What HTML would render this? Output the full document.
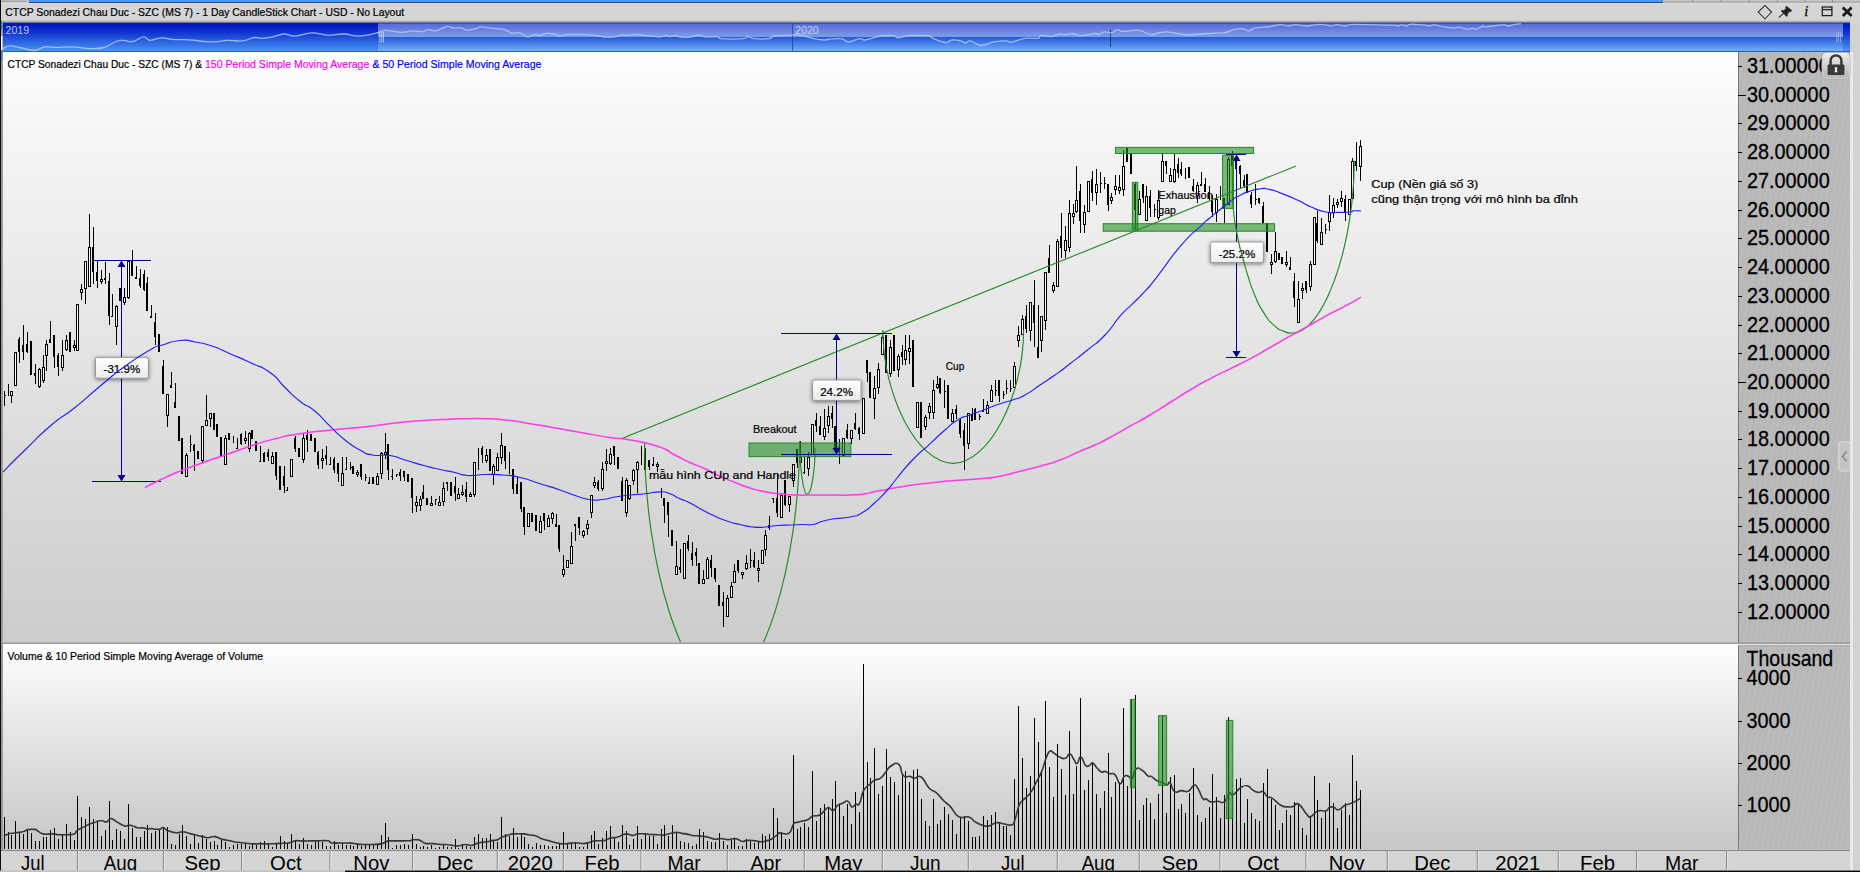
<!DOCTYPE html>
<html><head><meta charset="utf-8"><title>CTCP Sonadezi Chau Duc - SZC</title>
<style>html,body{margin:0;padding:0;background:#d6d6d6;overflow:hidden}svg{display:block}text{font-family:"Liberation Sans",sans-serif}.tk text,.tk{stroke:#000;stroke-width:0.22px}</style></head><body>
<svg width="1860" height="872" viewBox="0 0 1860 872">
<defs>
<linearGradient id="gChart" x1="0" y1="0" x2="0" y2="1"><stop offset="0" stop-color="#ffffff"/><stop offset="0.12" stop-color="#f6f6f6"/><stop offset="1" stop-color="#cccccc"/></linearGradient>
<linearGradient id="gVol" x1="0" y1="0" x2="0" y2="1"><stop offset="0" stop-color="#ffffff"/><stop offset="0.2" stop-color="#f2f2f2"/><stop offset="1" stop-color="#c6c6c6"/></linearGradient>
<linearGradient id="gNavDark" x1="0" y1="0" x2="0" y2="1"><stop offset="0" stop-color="#0012b8"/><stop offset="0.25" stop-color="#0a28cc"/><stop offset="1" stop-color="#4a96f2"/></linearGradient>
<linearGradient id="gNavSelTop" x1="0" y1="0" x2="0" y2="1"><stop offset="0" stop-color="#5866d6"/><stop offset="1" stop-color="#7c9ee8"/></linearGradient>
<linearGradient id="gNavSelBot" x1="0" y1="0" x2="0" y2="1"><stop offset="0" stop-color="#2456d8"/><stop offset="1" stop-color="#74b4fa"/></linearGradient>
<linearGradient id="gLbl" x1="0" y1="0" x2="0" y2="1"><stop offset="0" stop-color="#ffffff"/><stop offset="1" stop-color="#ececec"/></linearGradient>
<linearGradient id="gBtn" x1="0" y1="0" x2="0" y2="1"><stop offset="0" stop-color="#ececec"/><stop offset="1" stop-color="#b4b4b4"/></linearGradient>
<linearGradient id="gTitleSh" x1="0" y1="0" x2="0" y2="1"><stop offset="0" stop-color="#d6d6d6"/><stop offset="1" stop-color="#8e8e8e"/></linearGradient>
<pattern id="brush" width="11" height="40" patternUnits="userSpaceOnUse" patternTransform="rotate(12)"><rect width="11" height="40" fill="#b9b9b9"/><rect width="1" height="40" x="1" fill="#bdbdbd"/><rect width="1" height="40" x="4" fill="#b5b5b5"/><rect width="1" height="40" x="7" fill="#bcbcbc"/><rect width="1" height="40" x="9" fill="#b6b6b6"/></pattern>
<filter id="sh" x="-20%" y="-30%" width="140%" height="170%"><feGaussianBlur in="SourceAlpha" stdDeviation="1.9"/><feOffset dx="0.3" dy="0.8"/><feComponentTransfer><feFuncA type="linear" slope="0.55"/></feComponentTransfer><feMerge><feMergeNode/><feMergeNode in="SourceGraphic"/></feMerge></filter>
<clipPath id="cpChart"><rect x="3" y="52" width="1735" height="590"/></clipPath>
<clipPath id="cpAxis"><rect x="1738" y="52" width="112" height="591"/></clipPath>
<clipPath id="cpX"><rect x="0" y="850" width="1860" height="20.5"/></clipPath>
</defs>
<rect x="0" y="0" width="1860" height="872" fill="#d6d6d6"/>
<rect x="0" y="0" width="1860" height="3" fill="#c4c4c4"/>
<rect x="1" y="0" width="26" height="1.5" fill="#bcbcbc"/><rect x="1" y="1.4" width="26" height="0.7" fill="#8e8e8e"/><rect x="1" y="2.1" width="28" height="1" fill="#d2d2d2"/>
<rect x="29" y="0" width="1634" height="2.3" fill="#4a98ea"/>
<rect x="29" y="2.2" width="1634" height="0.9" fill="#18259a"/>
<rect x="1" y="3" width="1859" height="0.7" fill="#e6e6e0"/>
<rect x="1692" y="0" width="1" height="2.5" fill="#909090"/>
<rect x="1720.5" y="0" width="1" height="2.5" fill="#909090"/>
<rect x="1748.6" y="0" width="1" height="2.5" fill="#909090"/>
<rect x="1777" y="0" width="1" height="2.5" fill="#909090"/>
<rect x="1804.6" y="0" width="1" height="2.5" fill="#909090"/>
<rect x="1832" y="0" width="1" height="2.5" fill="#909090"/>
<rect x="1663" y="1.5" width="197" height="1" fill="#a0a0a0"/>
<rect x="1" y="3.6" width="1859" height="17" fill="#d5d5d5"/>
<rect x="1" y="20" width="1849" height="3" fill="url(#gTitleSh)"/>
<text class="tk" x="5.3" y="15.8" font-size="11.4" fill="#000" textLength="398.8" lengthAdjust="spacingAndGlyphs">CTCP Sonadezi Chau Duc - SZC (MS 7) - 1 Day CandleStick Chart - USD - No Layout</text>
<path d="M1764.9 5.4 L1771.6 12.1 L1764.9 18.8 L1758.2 12.1 Z" stroke="#2c2c2c" fill="none" stroke-width="1.05"/>
<g stroke="#222" fill="none" stroke-width="1.3">
<rect x="1822.3" y="7" width="9.6" height="8.6"/><line x1="1822.3" y1="9.6" x2="1831.9" y2="9.6"/>
</g>
<path d="M1842.8 7.6 L1851.6 16 M1851.6 7.6 L1842.8 16" stroke="#1a1a1a" stroke-width="2.8" fill="none"/>
<g fill="#222" stroke="#222" stroke-width="0.6"><path d="M1786.5 6.2 L1791.8 10.6 L1790.6 11.8 L1789.6 11.4 L1787.2 14.2 L1787.6 15.6 L1786.6 16.4 L1781.2 11 L1782.2 10.2 L1783.6 10.8 L1786.2 8.2 L1785.6 7.2 Z"/><path d="M1783.6 13.4 L1778.8 17.6" stroke-width="1.2" fill="none"/></g>
<text x="1804.2" y="16.2" font-size="14.5" font-style="italic" fill="#111" stroke="#111" stroke-width="0.35" style="font-family:'Liberation Serif',serif">i</text>
<rect x="0" y="0" width="1" height="872" fill="#0a0a0a"/>
<rect x="1" y="23" width="2" height="849" fill="#9a9a9a"/>
<rect x="1" y="21" width="1.3" height="8" fill="#2a86b8"/><rect x="1" y="36" width="1.3" height="14" fill="#ffffff"/><rect x="1" y="50" width="1.3" height="10" fill="#2a86b8"/>
<rect x="3" y="23" width="1847" height="28.5" fill="url(#gNavDark)"/>
<rect x="378" y="23" width="1465" height="14" fill="url(#gNavSelTop)"/>
<rect x="378" y="37" width="1465" height="14.5" fill="url(#gNavSelBot)"/>
<rect x="3" y="22.6" width="1847" height="0.9" fill="#14279a" opacity="0.8"/>
<rect x="3" y="51" width="1847" height="1" fill="#2a5cb0"/>
<rect x="792" y="23" width="1" height="28" fill="#1a2a70" opacity="0.6"/>
<rect x="1110" y="30" width="1" height="17" fill="#14205a" opacity="0.7"/>
<path d="M2.2 49.0 C3.7 48.4 5.8 46.0 9.7 45.8 C13.6 45.6 16.6 47.1 21.5 48.0 C26.4 48.9 29.7 50.7 34.4 50.5 C39.1 50.3 40.7 47.5 45.0 46.9 C49.3 46.3 50.4 47.5 56.0 47.5 C61.6 47.5 66.2 46.7 73.0 46.9 C79.8 47.1 83.8 48.5 90.0 48.6 C96.2 48.7 98.8 48.9 104.0 47.5 C109.2 46.1 112.1 42.9 116.0 41.5 C119.9 40.1 120.3 40.4 123.7 40.4 C127.1 40.4 129.0 42.2 133.0 41.5 C137.0 40.8 140.3 37.0 143.7 36.8 C147.1 36.6 146.5 40.2 150.0 40.4 C153.5 40.6 156.6 38.0 161.0 37.8 C165.4 37.6 166.4 39.0 172.0 39.4 C177.6 39.8 182.6 39.4 189.0 39.8 C195.4 40.2 198.8 41.1 204.0 41.5 C209.2 41.9 210.2 42.1 215.0 41.9 C219.8 41.7 222.4 40.6 228.0 40.4 C233.6 40.2 237.8 41.5 243.0 40.9 C248.2 40.3 250.2 38.1 254.0 37.6 C257.8 37.1 258.2 38.5 262.0 38.3 C265.8 38.1 268.6 37.7 273.0 36.8 C277.4 35.9 279.7 34.1 284.0 34.0 C288.3 33.9 289.0 36.3 294.6 36.1 C300.2 35.9 305.5 33.1 312.0 32.9 C318.5 32.7 320.6 34.9 327.0 35.1 C333.4 35.3 338.0 33.8 344.0 34.0 C350.0 34.2 351.8 36.0 357.0 36.1 C362.2 36.2 365.7 35.3 370.0 34.6 C374.3 33.9 375.2 33.4 378.5 32.5 C381.8 31.6 381.9 30.3 386.5 30.3 C391.1 30.3 396.4 32.2 401.5 32.3 C406.6 32.4 407.9 30.9 412.0 30.8 C416.1 30.7 418.8 32.0 422.0 31.8 C425.2 31.6 425.2 29.9 428.0 29.7 C430.8 29.5 432.3 31.4 436.0 30.8 C439.7 30.2 443.3 27.1 446.7 26.5 C450.1 25.9 450.0 27.7 453.0 28.0 C456.0 28.3 459.1 27.6 461.7 28.0 C464.3 28.4 463.4 29.9 466.0 30.1 C468.6 30.3 471.6 29.6 474.6 29.0 C477.6 28.4 477.6 27.1 481.0 26.9 C484.4 26.7 487.1 27.6 491.8 28.2 C496.5 28.8 500.9 28.8 504.7 29.7 C508.5 30.6 508.0 32.3 511.0 32.9 C514.0 33.5 516.5 32.1 519.8 32.9 C523.1 33.7 524.3 36.5 527.3 36.8 C530.3 37.1 532.3 34.9 534.8 34.6 C537.3 34.3 537.8 35.7 540.0 35.5 C542.2 35.3 542.8 33.8 545.6 33.5 C548.4 33.2 551.0 33.5 554.0 34.0 C557.0 34.5 558.0 36.0 560.6 36.1 C563.2 36.2 561.8 34.9 567.0 34.6 C572.2 34.3 580.9 34.4 586.5 34.6 C592.1 34.8 590.7 35.0 595.0 35.5 C599.3 36.0 603.9 36.9 608.0 37.2 C612.1 37.5 612.5 37.3 615.5 36.8 C618.5 36.3 620.9 34.8 623.0 34.6 C625.1 34.4 624.3 35.7 626.0 35.7 C627.7 35.7 629.2 34.8 631.6 34.6 C634.0 34.4 635.0 34.4 638.0 34.6 C641.0 34.8 642.4 35.3 646.7 35.7 C651.0 36.1 655.7 36.8 659.6 36.8 C663.5 36.8 663.9 35.5 666.0 35.5 C668.1 35.5 668.3 36.6 670.0 36.6 C671.7 36.6 672.4 35.6 674.6 35.7 C676.8 35.8 678.0 36.9 681.0 37.2 C684.0 37.5 686.3 37.6 689.7 37.2 C693.1 36.8 695.0 35.1 698.0 35.0 C701.0 34.9 700.8 36.4 704.7 36.8 C708.6 37.2 714.1 36.4 717.6 36.8 C721.1 37.2 716.8 38.3 722.0 38.7 C727.2 39.1 738.3 39.1 743.4 38.7 C748.5 38.3 745.6 36.6 747.7 36.6 C749.8 36.6 749.7 38.3 754.0 38.7 C758.3 39.1 765.1 39.2 769.0 38.7 C772.9 38.2 771.3 36.7 773.5 36.1 C775.7 35.5 774.9 35.9 780.0 35.7 C785.1 35.5 792.2 34.4 799.0 35.0 C805.8 35.6 808.8 37.7 814.0 38.7 C819.2 39.7 821.5 40.0 825.0 40.0 C828.5 40.0 828.2 39.1 831.6 38.9 C835.0 38.7 838.6 38.3 842.0 38.9 C845.4 39.5 845.3 41.9 848.8 41.9 C852.3 41.9 856.4 39.1 859.6 38.7 C862.8 38.3 861.6 40.4 865.0 40.0 C868.4 39.6 873.2 37.7 876.8 36.8 C880.4 35.9 879.6 35.9 883.0 35.7 C886.4 35.5 891.0 35.3 894.0 35.7 C897.0 36.1 895.0 37.8 898.0 37.8 C901.0 37.8 903.0 36.1 909.0 35.7 C915.0 35.3 923.3 35.2 928.0 35.7 C932.7 36.2 929.2 36.9 932.7 38.3 C936.2 39.7 941.7 42.3 945.6 42.6 C949.5 42.9 949.0 40.3 952.0 40.0 C955.0 39.7 957.8 40.3 960.6 40.9 C963.4 41.5 964.1 43.0 966.0 43.0 C967.9 43.0 967.0 40.4 970.0 40.9 C973.0 41.4 976.4 45.1 981.0 45.4 C985.6 45.7 988.0 43.1 993.0 42.2 C998.0 41.3 1002.2 40.9 1005.8 40.9 C1009.4 40.9 1007.2 42.7 1011.0 42.2 C1014.8 41.7 1019.6 39.1 1025.0 38.3 C1030.4 37.5 1034.8 38.9 1038.0 38.3 C1041.2 37.7 1038.4 35.8 1041.0 35.5 C1043.6 35.2 1047.3 36.9 1051.0 36.6 C1054.7 36.3 1056.6 34.4 1059.6 34.0 C1062.6 33.6 1063.4 34.7 1066.0 34.6 C1068.6 34.5 1069.5 33.3 1072.5 33.5 C1075.5 33.7 1076.3 35.7 1081.0 35.7 C1085.7 35.7 1092.6 33.7 1096.0 33.5 C1099.4 33.3 1096.3 34.9 1098.0 34.6 C1099.7 34.3 1102.1 32.1 1104.7 31.8 C1107.3 31.5 1108.4 33.3 1111.0 32.9 C1113.6 32.5 1115.4 30.0 1117.6 29.7 C1119.8 29.4 1118.6 31.3 1122.0 31.4 C1125.4 31.5 1131.0 30.4 1134.8 30.3 C1138.6 30.2 1137.8 29.9 1141.0 30.8 C1144.2 31.7 1147.5 34.2 1151.0 34.6 C1154.5 35.0 1155.3 33.5 1158.5 32.9 C1161.7 32.3 1162.7 31.6 1167.0 31.8 C1171.3 32.0 1176.1 33.4 1180.0 34.0 C1183.9 34.6 1182.2 35.0 1186.5 35.0 C1190.8 35.0 1195.1 34.4 1201.5 34.0 C1207.9 33.6 1213.8 33.2 1218.7 32.9 C1223.6 32.6 1223.0 33.1 1226.0 32.5 C1229.0 31.9 1230.6 30.5 1233.8 29.7 C1237.0 28.9 1239.0 28.4 1242.0 28.6 C1245.0 28.8 1246.2 30.9 1248.8 30.8 C1251.4 30.7 1250.8 29.1 1255.0 28.2 C1259.2 27.3 1264.8 27.2 1270.0 26.5 C1275.2 25.8 1277.5 24.8 1281.0 24.7 C1284.5 24.6 1284.5 25.8 1287.5 25.8 C1290.5 25.8 1292.1 24.7 1296.0 24.7 C1299.9 24.7 1302.1 26.1 1306.9 26.0 C1311.7 25.9 1315.1 24.3 1319.8 24.3 C1324.5 24.3 1327.1 25.7 1330.5 25.8 C1333.9 25.9 1334.0 24.7 1337.0 24.7 C1340.0 24.7 1342.2 26.1 1345.6 26.0 C1349.0 25.9 1344.1 24.4 1354.0 24.3 C1363.9 24.2 1386.4 25.1 1395.0 25.4 C1403.6 25.7 1395.7 26.1 1397.0 26.0 C1398.3 25.9 1399.5 24.9 1401.5 24.9 C1403.5 24.9 1405.3 26.1 1407.0 26.0 C1408.7 25.9 1406.8 24.5 1410.0 24.3 C1413.2 24.1 1419.1 24.6 1423.0 24.9 C1426.9 25.2 1427.3 26.0 1429.5 26.0 C1431.7 26.0 1430.8 24.7 1433.8 24.9 C1436.8 25.1 1440.3 26.3 1444.5 26.9 C1448.7 27.5 1452.2 28.0 1455.0 28.0 C1457.8 28.0 1456.1 26.9 1458.5 27.1 C1460.9 27.3 1464.2 29.0 1467.0 29.2 C1469.8 29.4 1470.8 28.2 1472.5 28.2 C1474.2 28.2 1473.6 29.6 1475.7 29.2 C1477.8 28.8 1481.1 26.5 1483.0 26.0 C1484.9 25.5 1481.1 27.1 1485.0 26.9 C1488.9 26.7 1498.0 25.1 1502.6 24.9 C1507.2 24.7 1505.4 26.1 1508.0 26.0 C1510.6 25.9 1512.9 24.7 1515.5 24.3 C1518.1 23.9 1519.9 24.0 1521.0 23.9" fill="none" stroke="#b4cdf4" stroke-width="1.3" stroke-linejoin="round" opacity="0.8"/>
<text x="5.6" y="34" font-size="10.6" fill="#b8c6ec" textLength="23.4" lengthAdjust="spacingAndGlyphs">2019</text>
<text x="795.3" y="34" font-size="10.6" fill="#c4d0f0" textLength="23.4" lengthAdjust="spacingAndGlyphs">2020</text>
<rect x="379.6" y="32" width="0.8" height="10.5" fill="#d8e0f8" opacity="0.85"/>
<rect x="381.4" y="32" width="0.8" height="10.5" fill="#d8e0f8" opacity="0.85"/>
<rect x="383.2" y="32" width="0.8" height="10.5" fill="#d8e0f8" opacity="0.85"/>
<rect x="1836.4" y="32" width="0.8" height="10.5" fill="#aab8ea" opacity="0.85"/>
<rect x="1838.2" y="32" width="0.8" height="10.5" fill="#aab8ea" opacity="0.85"/>
<rect x="1840" y="32" width="0.8" height="10.5" fill="#aab8ea" opacity="0.85"/>
<rect x="1850" y="23" width="10" height="849" fill="#d2d2d2"/>
<rect x="1850" y="52" width="3" height="820" fill="#e9e9e9"/>
<rect x="3" y="52" width="1735" height="591" fill="url(#gChart)"/>
<rect x="3" y="643.7" width="1735" height="206" fill="url(#gVol)"/>
<rect x="1738" y="52" width="112" height="591" fill="url(#brush)"/>
<rect x="1738" y="643.7" width="112" height="1.8" fill="#e6e6e6"/>
<rect x="1738" y="645.4" width="112" height="204.4" fill="url(#brush)"/>
<rect x="1738" y="52" width="1" height="591" fill="#787878"/>
<rect x="1738" y="645.4" width="1" height="204.4" fill="#787878"/>
<rect x="3" y="642.7" width="1847" height="1" fill="#808080"/>
<rect x="1738" y="645.4" width="112" height="0.7" fill="#9a9a9a"/>
<g clip-path="url(#cpAxis)" font-size="21.6" fill="#000" stroke="#000" stroke-width="0.3">
<rect x="1738" y="66" width="4" height="1" fill="#000" stroke="none" shape-rendering="crispEdges"/>
<text x="1746.9" y="73.2" textLength="82.8" lengthAdjust="spacingAndGlyphs">31.00000</text>
<rect x="1738" y="95" width="8" height="1" fill="#000" stroke="none" shape-rendering="crispEdges"/>
<text x="1746.9" y="102.2" textLength="82.8" lengthAdjust="spacingAndGlyphs">30.00000</text>
<rect x="1738" y="123" width="4" height="1" fill="#000" stroke="none" shape-rendering="crispEdges"/>
<text x="1746.9" y="130.2" textLength="82.8" lengthAdjust="spacingAndGlyphs">29.00000</text>
<rect x="1738" y="152" width="4" height="1" fill="#000" stroke="none" shape-rendering="crispEdges"/>
<text x="1746.9" y="159.2" textLength="82.8" lengthAdjust="spacingAndGlyphs">28.00000</text>
<rect x="1738" y="181" width="4" height="1" fill="#000" stroke="none" shape-rendering="crispEdges"/>
<text x="1746.9" y="188.2" textLength="82.8" lengthAdjust="spacingAndGlyphs">27.00000</text>
<rect x="1738" y="210" width="4" height="1" fill="#000" stroke="none" shape-rendering="crispEdges"/>
<text x="1746.9" y="217.2" textLength="82.8" lengthAdjust="spacingAndGlyphs">26.00000</text>
<rect x="1738" y="238" width="4" height="1" fill="#000" stroke="none" shape-rendering="crispEdges"/>
<text x="1746.9" y="245.2" textLength="82.8" lengthAdjust="spacingAndGlyphs">25.00000</text>
<rect x="1738" y="267" width="4" height="1" fill="#000" stroke="none" shape-rendering="crispEdges"/>
<text x="1746.9" y="274.2" textLength="82.8" lengthAdjust="spacingAndGlyphs">24.00000</text>
<rect x="1738" y="296" width="4" height="1" fill="#000" stroke="none" shape-rendering="crispEdges"/>
<text x="1746.9" y="303.2" textLength="82.8" lengthAdjust="spacingAndGlyphs">23.00000</text>
<rect x="1738" y="325" width="4" height="1" fill="#000" stroke="none" shape-rendering="crispEdges"/>
<text x="1746.9" y="332.2" textLength="82.8" lengthAdjust="spacingAndGlyphs">22.00000</text>
<rect x="1738" y="353" width="4" height="1" fill="#000" stroke="none" shape-rendering="crispEdges"/>
<text x="1746.9" y="360.2" textLength="82.8" lengthAdjust="spacingAndGlyphs">21.00000</text>
<rect x="1738" y="382" width="8" height="1" fill="#000" stroke="none" shape-rendering="crispEdges"/>
<text x="1746.9" y="389.2" textLength="82.8" lengthAdjust="spacingAndGlyphs">20.00000</text>
<rect x="1738" y="411" width="4" height="1" fill="#000" stroke="none" shape-rendering="crispEdges"/>
<text x="1746.9" y="418.2" textLength="82.8" lengthAdjust="spacingAndGlyphs">19.00000</text>
<rect x="1738" y="439" width="4" height="1" fill="#000" stroke="none" shape-rendering="crispEdges"/>
<text x="1746.9" y="446.2" textLength="82.8" lengthAdjust="spacingAndGlyphs">18.00000</text>
<rect x="1738" y="468" width="4" height="1" fill="#000" stroke="none" shape-rendering="crispEdges"/>
<text x="1746.9" y="475.2" textLength="82.8" lengthAdjust="spacingAndGlyphs">17.00000</text>
<rect x="1738" y="497" width="4" height="1" fill="#000" stroke="none" shape-rendering="crispEdges"/>
<text x="1746.9" y="504.2" textLength="82.8" lengthAdjust="spacingAndGlyphs">16.00000</text>
<rect x="1738" y="526" width="4" height="1" fill="#000" stroke="none" shape-rendering="crispEdges"/>
<text x="1746.9" y="533.2" textLength="82.8" lengthAdjust="spacingAndGlyphs">15.00000</text>
<rect x="1738" y="554" width="4" height="1" fill="#000" stroke="none" shape-rendering="crispEdges"/>
<text x="1746.9" y="561.2" textLength="82.8" lengthAdjust="spacingAndGlyphs">14.00000</text>
<rect x="1738" y="583" width="4" height="1" fill="#000" stroke="none" shape-rendering="crispEdges"/>
<text x="1746.9" y="590.2" textLength="82.8" lengthAdjust="spacingAndGlyphs">13.00000</text>
<rect x="1738" y="612" width="4" height="1" fill="#000" stroke="none" shape-rendering="crispEdges"/>
<text x="1746.9" y="619.2" textLength="82.8" lengthAdjust="spacingAndGlyphs">12.00000</text>
</g>
<g><rect x="1822.5" y="52.8" width="27" height="25.6" rx="3.5" fill="url(#gBtn)" stroke="#f2f2f2" stroke-width="1"/>
<rect x="1822" y="52.3" width="28" height="26.6" rx="4" fill="none" stroke="#9a9a9a" stroke-width="0.7"/>
<path d="M1830.6 65 v-4.2 a5.4 5.4 0 0 1 10.8 0 v4.2" fill="none" stroke="#3a3a3a" stroke-width="2.5"/>
<rect x="1827.6" y="64.6" width="16.8" height="10.4" rx="1.2" fill="#3a3a3a"/>
<path d="M1836 67 a1.3 1.3 0 0 1 .9 2.3 l.6 2.9 h-3 l.6 -2.9 a1.3 1.3 0 0 1 .9 -2.3z" fill="#e8e8e8"/></g>
<rect x="1838.8" y="442" width="11.4" height="29" rx="2" fill="#c4c4c4" stroke="#dedede" stroke-width="1"/>
<path d="M1846.6 451.6 L1842.4 456.4 L1846.6 461.2" fill="none" stroke="#8a8a8a" stroke-width="1.6"/>
<g font-size="21.6" fill="#000" stroke="#000" stroke-width="0.3">
<text x="1746.6" y="665.8" textLength="86.6" lengthAdjust="spacingAndGlyphs">Thousand</text>
<rect x="1738" y="678" width="4" height="1" fill="#000" stroke="none" shape-rendering="crispEdges"/>
<text x="1746.6" y="685.2" textLength="44" lengthAdjust="spacingAndGlyphs">4000</text>
<rect x="1738" y="721" width="4" height="1" fill="#000" stroke="none" shape-rendering="crispEdges"/>
<text x="1746.6" y="728.2" textLength="44" lengthAdjust="spacingAndGlyphs">3000</text>
<rect x="1738" y="763" width="4" height="1" fill="#000" stroke="none" shape-rendering="crispEdges"/>
<text x="1746.6" y="770.2" textLength="44" lengthAdjust="spacingAndGlyphs">2000</text>
<rect x="1738" y="805" width="4" height="1" fill="#000" stroke="none" shape-rendering="crispEdges"/>
<text x="1746.6" y="812.2" textLength="44" lengthAdjust="spacingAndGlyphs">1000</text>
</g>
<rect x="1" y="850" width="1849" height="1" fill="#858585" shape-rendering="crispEdges"/>
<rect x="1" y="851" width="1849" height="19.6" fill="#d4d4d4"/>
<rect x="0" y="870.4" width="1860" height="1.6" fill="#c2c2c2"/>
<rect x="345" y="870.6" width="1515" height="1.4" fill="#0a0a0a"/>
<g clip-path="url(#cpX)" font-size="20.3" fill="#000" text-anchor="middle">
<rect x="76.9" y="850.6" width="1" height="20" fill="#7c7c7c"/><rect x="77.9" y="850.6" width="1" height="20" fill="#e6e6e6"/>
<rect x="162.9" y="850.6" width="1" height="20" fill="#7c7c7c"/><rect x="163.9" y="850.6" width="1" height="20" fill="#e6e6e6"/>
<rect x="241.2" y="850.6" width="1" height="20" fill="#7c7c7c"/><rect x="242.2" y="850.6" width="1" height="20" fill="#e6e6e6"/>
<rect x="329.5" y="850.6" width="1" height="20" fill="#7c7c7c"/><rect x="330.5" y="850.6" width="1" height="20" fill="#e6e6e6"/>
<rect x="412.2" y="850.6" width="1" height="20" fill="#7c7c7c"/><rect x="413.2" y="850.6" width="1" height="20" fill="#e6e6e6"/>
<rect x="496.8" y="850.6" width="1" height="20" fill="#7c7c7c"/><rect x="497.8" y="850.6" width="1" height="20" fill="#e6e6e6"/>
<rect x="562.8" y="850.6" width="1" height="20" fill="#7c7c7c"/><rect x="563.8" y="850.6" width="1" height="20" fill="#e6e6e6"/>
<rect x="640.5" y="850.6" width="1" height="20" fill="#7c7c7c"/><rect x="641.5" y="850.6" width="1" height="20" fill="#e6e6e6"/>
<rect x="726.8" y="850.6" width="1" height="20" fill="#7c7c7c"/><rect x="727.8" y="850.6" width="1" height="20" fill="#e6e6e6"/>
<rect x="803.8" y="850.6" width="1" height="20" fill="#7c7c7c"/><rect x="804.8" y="850.6" width="1" height="20" fill="#e6e6e6"/>
<rect x="881.8" y="850.6" width="1" height="20" fill="#7c7c7c"/><rect x="882.8" y="850.6" width="1" height="20" fill="#e6e6e6"/>
<rect x="967.8" y="850.6" width="1" height="20" fill="#7c7c7c"/><rect x="968.8" y="850.6" width="1" height="20" fill="#e6e6e6"/>
<rect x="1056.8" y="850.6" width="1" height="20" fill="#7c7c7c"/><rect x="1057.8" y="850.6" width="1" height="20" fill="#e6e6e6"/>
<rect x="1138.8" y="850.6" width="1" height="20" fill="#7c7c7c"/><rect x="1139.8" y="850.6" width="1" height="20" fill="#e6e6e6"/>
<rect x="1219.5" y="850.6" width="1" height="20" fill="#7c7c7c"/><rect x="1220.5" y="850.6" width="1" height="20" fill="#e6e6e6"/>
<rect x="1305.5" y="850.6" width="1" height="20" fill="#7c7c7c"/><rect x="1306.5" y="850.6" width="1" height="20" fill="#e6e6e6"/>
<rect x="1386.8" y="850.6" width="1" height="20" fill="#7c7c7c"/><rect x="1387.8" y="850.6" width="1" height="20" fill="#e6e6e6"/>
<rect x="1476.8" y="850.6" width="1" height="20" fill="#7c7c7c"/><rect x="1477.8" y="850.6" width="1" height="20" fill="#e6e6e6"/>
<rect x="1557.8" y="850.6" width="1" height="20" fill="#7c7c7c"/><rect x="1558.8" y="850.6" width="1" height="20" fill="#e6e6e6"/>
<rect x="1636.2" y="850.6" width="1" height="20" fill="#7c7c7c"/><rect x="1637.2" y="850.6" width="1" height="20" fill="#e6e6e6"/>
<rect x="1726.2" y="850.6" width="1" height="20" fill="#7c7c7c"/><rect x="1727.2" y="850.6" width="1" height="20" fill="#e6e6e6"/>
<text x="32.8" y="870.4" textLength="23.5" lengthAdjust="spacingAndGlyphs">Jul</text>
<text x="120.4" y="870.4" textLength="33.3" lengthAdjust="spacingAndGlyphs">Aug</text>
<text x="202.6" y="870.4">Sep</text>
<text x="285.9" y="870.4">Oct</text>
<text x="371.4" y="870.4">Nov</text>
<text x="455.0" y="870.4">Dec</text>
<text x="530.3" y="870.4">2020</text>
<text x="602.1" y="870.4">Feb</text>
<text x="684.1" y="870.4" textLength="33.4" lengthAdjust="spacingAndGlyphs">Mar</text>
<text x="765.8" y="870.4" textLength="30.6" lengthAdjust="spacingAndGlyphs">Apr</text>
<text x="843.3" y="870.4">May</text>
<text x="925.3" y="870.4" textLength="30.7" lengthAdjust="spacingAndGlyphs">Jun</text>
<text x="1012.8" y="870.4" textLength="23.5" lengthAdjust="spacingAndGlyphs">Jul</text>
<text x="1098.3" y="870.4" textLength="33.3" lengthAdjust="spacingAndGlyphs">Aug</text>
<text x="1179.7" y="870.4">Sep</text>
<text x="1263.0" y="870.4">Oct</text>
<text x="1346.7" y="870.4">Nov</text>
<text x="1432.3" y="870.4">Dec</text>
<text x="1517.8" y="870.4">2021</text>
<text x="1597.5" y="870.4">Feb</text>
<text x="1681.7" y="870.4" textLength="33.4" lengthAdjust="spacingAndGlyphs">Mar</text>
</g>
<g clip-path="url(#cpChart)">
<g shape-rendering="crispEdges">
<rect x="4" y="391" width="1" height="15" fill="#000"/>
<rect x="4" y="395" width="2" height="1" fill="#000"/>
<rect x="8" y="384" width="1" height="12" fill="#000"/>
<rect x="11" y="391" width="1" height="12" fill="#000"/>
<rect x="10" y="391" width="3" height="5" fill="#000"/><rect x="11" y="392" width="1" height="3" fill="#fff"/>
<rect x="15" y="352" width="1" height="34" fill="#000"/>
<rect x="14" y="352" width="3" height="34" fill="#000"/><rect x="15" y="353" width="1" height="32" fill="#fff"/>
<rect x="19" y="337" width="1" height="26" fill="#000"/>
<rect x="18" y="339" width="2" height="13" fill="#000"/>
<rect x="23" y="325" width="1" height="35" fill="#000"/>
<rect x="22" y="345" width="2" height="7" fill="#000"/>
<rect x="27" y="332" width="1" height="21" fill="#000"/>
<rect x="26" y="344" width="2" height="8" fill="#000"/>
<rect x="31" y="341" width="1" height="34" fill="#000"/>
<rect x="30" y="341" width="2" height="34" fill="#000"/>
<rect x="35" y="364" width="1" height="20" fill="#000"/>
<rect x="34" y="373" width="2" height="3" fill="#000"/>
<rect x="39" y="368" width="1" height="20" fill="#000"/>
<rect x="38" y="369" width="3" height="18" fill="#000"/><rect x="39" y="370" width="1" height="16" fill="#fff"/>
<rect x="43" y="355" width="1" height="28" fill="#000"/>
<rect x="42" y="367" width="3" height="14" fill="#000"/><rect x="43" y="368" width="1" height="12" fill="#fff"/>
<rect x="46" y="340" width="1" height="31" fill="#000"/>
<rect x="45" y="344" width="3" height="12" fill="#000"/><rect x="46" y="345" width="1" height="10" fill="#fff"/>
<rect x="50" y="321" width="1" height="22" fill="#000"/>
<rect x="49" y="339" width="2" height="4" fill="#000"/>
<rect x="54" y="335" width="1" height="33" fill="#000"/>
<rect x="53" y="335" width="2" height="22" fill="#000"/>
<rect x="58" y="353" width="1" height="23" fill="#000"/>
<rect x="57" y="355" width="2" height="12" fill="#000"/>
<rect x="62" y="340" width="1" height="31" fill="#000"/>
<rect x="61" y="355" width="3" height="13" fill="#000"/><rect x="62" y="356" width="1" height="11" fill="#fff"/>
<rect x="66" y="335" width="1" height="16" fill="#000"/>
<rect x="65" y="340" width="3" height="10" fill="#000"/><rect x="66" y="341" width="1" height="8" fill="#fff"/>
<rect x="70" y="332" width="1" height="20" fill="#000"/>
<rect x="69" y="332" width="2" height="20" fill="#000"/>
<rect x="74" y="340" width="1" height="11" fill="#000"/>
<rect x="73" y="345" width="3" height="3" fill="#000"/><rect x="74" y="346" width="1" height="1" fill="#fff"/>
<rect x="77" y="304" width="1" height="47" fill="#000"/>
<rect x="76" y="304" width="3" height="47" fill="#000"/><rect x="77" y="305" width="1" height="45" fill="#fff"/>
<rect x="81" y="284" width="1" height="16" fill="#000"/>
<rect x="80" y="289" width="3" height="4" fill="#000"/><rect x="81" y="290" width="1" height="2" fill="#fff"/>
<rect x="85" y="261" width="1" height="43" fill="#000"/>
<rect x="84" y="261" width="3" height="28" fill="#000"/><rect x="85" y="262" width="1" height="26" fill="#fff"/>
<rect x="89" y="214" width="1" height="73" fill="#000"/>
<rect x="88" y="247" width="3" height="40" fill="#000"/><rect x="89" y="248" width="1" height="38" fill="#fff"/>
<rect x="93" y="227" width="1" height="57" fill="#000"/>
<rect x="92" y="247" width="2" height="25" fill="#000"/>
<rect x="97" y="260" width="1" height="28" fill="#000"/>
<rect x="96" y="272" width="2" height="9" fill="#000"/>
<rect x="101" y="270" width="1" height="14" fill="#000"/>
<rect x="100" y="279" width="3" height="3" fill="#000"/><rect x="101" y="280" width="1" height="1" fill="#fff"/>
<rect x="105" y="262" width="1" height="22" fill="#000"/>
<rect x="104" y="278" width="2" height="2" fill="#000"/>
<rect x="109" y="273" width="1" height="52" fill="#000"/>
<rect x="108" y="281" width="2" height="35" fill="#000"/>
<rect x="112" y="294" width="1" height="23" fill="#000"/>
<rect x="111" y="316" width="2" height="1" fill="#000"/>
<rect x="116" y="305" width="1" height="40" fill="#000"/>
<rect x="115" y="306" width="3" height="21" fill="#000"/><rect x="116" y="307" width="1" height="19" fill="#fff"/>
<rect x="120" y="288" width="1" height="13" fill="#000"/>
<rect x="119" y="288" width="2" height="13" fill="#000"/>
<rect x="124" y="288" width="1" height="17" fill="#000"/>
<rect x="123" y="297" width="3" height="6" fill="#000"/><rect x="124" y="298" width="1" height="4" fill="#fff"/>
<rect x="128" y="260" width="1" height="39" fill="#000"/>
<rect x="127" y="261" width="3" height="37" fill="#000"/><rect x="128" y="262" width="1" height="35" fill="#fff"/>
<rect x="132" y="250" width="1" height="26" fill="#000"/>
<rect x="131" y="260" width="2" height="16" fill="#000"/>
<rect x="136" y="266" width="1" height="13" fill="#000"/>
<rect x="135" y="277" width="2" height="2" fill="#000"/>
<rect x="140" y="269" width="1" height="19" fill="#000"/>
<rect x="139" y="278" width="2" height="8" fill="#000"/>
<rect x="144" y="270" width="1" height="21" fill="#000"/>
<rect x="143" y="274" width="2" height="16" fill="#000"/>
<rect x="147" y="277" width="1" height="34" fill="#000"/>
<rect x="146" y="283" width="2" height="28" fill="#000"/>
<rect x="151" y="305" width="1" height="13" fill="#000"/>
<rect x="150" y="316" width="2" height="2" fill="#000"/>
<rect x="155" y="313" width="1" height="32" fill="#000"/>
<rect x="154" y="322" width="2" height="15" fill="#000"/>
<rect x="159" y="334" width="1" height="18" fill="#000"/>
<rect x="158" y="334" width="2" height="18" fill="#000"/>
<rect x="163" y="360" width="1" height="34" fill="#000"/>
<rect x="162" y="366" width="2" height="28" fill="#000"/>
<rect x="167" y="394" width="1" height="33" fill="#000"/>
<rect x="166" y="394" width="3" height="22" fill="#000"/><rect x="167" y="395" width="1" height="20" fill="#fff"/>
<rect x="171" y="372" width="1" height="16" fill="#000"/>
<rect x="170" y="385" width="2" height="3" fill="#000"/>
<rect x="175" y="383" width="1" height="25" fill="#000"/>
<rect x="174" y="402" width="2" height="6" fill="#000"/>
<rect x="179" y="416" width="1" height="25" fill="#000"/>
<rect x="178" y="416" width="2" height="25" fill="#000"/>
<rect x="182" y="438" width="1" height="36" fill="#000"/>
<rect x="181" y="438" width="2" height="36" fill="#000"/>
<rect x="186" y="453" width="1" height="24" fill="#000"/>
<rect x="185" y="455" width="3" height="22" fill="#000"/><rect x="186" y="456" width="1" height="20" fill="#fff"/>
<rect x="190" y="435" width="1" height="17" fill="#000"/>
<rect x="190" y="444" width="2" height="1" fill="#000"/>
<rect x="194" y="444" width="1" height="27" fill="#000"/>
<rect x="193" y="445" width="2" height="6" fill="#000"/>
<rect x="198" y="451" width="1" height="8" fill="#000"/>
<rect x="197" y="451" width="2" height="8" fill="#000"/>
<rect x="202" y="426" width="1" height="37" fill="#000"/>
<rect x="201" y="426" width="3" height="35" fill="#000"/><rect x="202" y="427" width="1" height="33" fill="#fff"/>
<rect x="206" y="395" width="1" height="31" fill="#000"/>
<rect x="205" y="420" width="3" height="6" fill="#000"/><rect x="206" y="421" width="1" height="4" fill="#fff"/>
<rect x="210" y="413" width="1" height="14" fill="#000"/>
<rect x="209" y="413" width="3" height="6" fill="#000"/><rect x="210" y="414" width="1" height="4" fill="#fff"/>
<rect x="214" y="413" width="1" height="17" fill="#000"/>
<rect x="213" y="413" width="2" height="17" fill="#000"/>
<rect x="217" y="424" width="1" height="13" fill="#000"/>
<rect x="216" y="424" width="2" height="13" fill="#000"/>
<rect x="221" y="437" width="1" height="19" fill="#000"/>
<rect x="220" y="437" width="2" height="19" fill="#000"/>
<rect x="225" y="435" width="1" height="30" fill="#000"/>
<rect x="224" y="438" width="3" height="27" fill="#000"/><rect x="225" y="439" width="1" height="25" fill="#fff"/>
<rect x="229" y="433" width="1" height="7" fill="#000"/>
<rect x="228" y="433" width="2" height="7" fill="#000"/>
<rect x="233" y="436" width="1" height="7" fill="#000"/>
<rect x="237" y="438" width="1" height="11" fill="#000"/>
<rect x="236" y="448" width="2" height="1" fill="#000"/>
<rect x="241" y="433" width="1" height="12" fill="#000"/>
<rect x="240" y="434" width="2" height="10" fill="#000"/>
<rect x="245" y="431" width="1" height="13" fill="#000"/>
<rect x="244" y="438" width="3" height="3" fill="#000"/><rect x="245" y="439" width="1" height="1" fill="#fff"/>
<rect x="249" y="432" width="1" height="20" fill="#000"/>
<rect x="248" y="433" width="3" height="16" fill="#000"/><rect x="249" y="434" width="1" height="14" fill="#fff"/>
<rect x="252" y="430" width="1" height="9" fill="#000"/>
<rect x="251" y="430" width="2" height="9" fill="#000"/>
<rect x="256" y="441" width="1" height="10" fill="#000"/>
<rect x="255" y="441" width="2" height="10" fill="#000"/>
<rect x="260" y="446" width="1" height="16" fill="#000"/>
<rect x="259" y="461" width="2" height="1" fill="#000"/>
<rect x="264" y="452" width="1" height="10" fill="#000"/>
<rect x="263" y="453" width="2" height="9" fill="#000"/>
<rect x="268" y="449" width="1" height="12" fill="#000"/>
<rect x="267" y="452" width="2" height="5" fill="#000"/>
<rect x="272" y="452" width="1" height="12" fill="#000"/>
<rect x="271" y="456" width="3" height="8" fill="#000"/><rect x="272" y="457" width="1" height="6" fill="#fff"/>
<rect x="276" y="452" width="1" height="28" fill="#000"/>
<rect x="275" y="452" width="2" height="24" fill="#000"/>
<rect x="280" y="466" width="1" height="24" fill="#000"/>
<rect x="279" y="466" width="2" height="24" fill="#000"/>
<rect x="284" y="466" width="1" height="27" fill="#000"/>
<rect x="283" y="476" width="2" height="10" fill="#000"/>
<rect x="287" y="487" width="1" height="4" fill="#000"/>
<rect x="286" y="490" width="2" height="1" fill="#000"/>
<rect x="291" y="459" width="1" height="18" fill="#000"/>
<rect x="290" y="459" width="3" height="18" fill="#000"/><rect x="291" y="460" width="1" height="16" fill="#fff"/>
<rect x="295" y="436" width="1" height="16" fill="#000"/>
<rect x="294" y="438" width="2" height="11" fill="#000"/>
<rect x="299" y="448" width="1" height="9" fill="#000"/>
<rect x="298" y="448" width="2" height="9" fill="#000"/>
<rect x="303" y="433" width="1" height="30" fill="#000"/>
<rect x="302" y="438" width="3" height="22" fill="#000"/><rect x="303" y="439" width="1" height="20" fill="#fff"/>
<rect x="307" y="430" width="1" height="22" fill="#000"/>
<rect x="306" y="435" width="2" height="5" fill="#000"/>
<rect x="311" y="434" width="1" height="7" fill="#000"/>
<rect x="310" y="434" width="2" height="7" fill="#000"/>
<rect x="315" y="438" width="1" height="14" fill="#000"/>
<rect x="314" y="438" width="2" height="14" fill="#000"/>
<rect x="318" y="451" width="1" height="18" fill="#000"/>
<rect x="317" y="452" width="2" height="13" fill="#000"/>
<rect x="322" y="449" width="1" height="20" fill="#000"/>
<rect x="321" y="458" width="3" height="3" fill="#000"/><rect x="322" y="459" width="1" height="1" fill="#fff"/>
<rect x="326" y="446" width="1" height="19" fill="#000"/>
<rect x="325" y="455" width="2" height="4" fill="#000"/>
<rect x="330" y="457" width="1" height="8" fill="#000"/>
<rect x="329" y="464" width="2" height="1" fill="#000"/>
<rect x="334" y="457" width="1" height="16" fill="#000"/>
<rect x="333" y="459" width="2" height="11" fill="#000"/>
<rect x="338" y="463" width="1" height="19" fill="#000"/>
<rect x="337" y="463" width="2" height="11" fill="#000"/>
<rect x="342" y="457" width="1" height="29" fill="#000"/>
<rect x="341" y="473" width="3" height="13" fill="#000"/><rect x="342" y="474" width="1" height="11" fill="#fff"/>
<rect x="346" y="457" width="1" height="13" fill="#000"/>
<rect x="345" y="469" width="2" height="1" fill="#000"/>
<rect x="350" y="462" width="1" height="8" fill="#000"/>
<rect x="350" y="467" width="2" height="1" fill="#000"/>
<rect x="353" y="466" width="1" height="8" fill="#000"/>
<rect x="352" y="466" width="2" height="8" fill="#000"/>
<rect x="357" y="470" width="1" height="7" fill="#000"/>
<rect x="356" y="472" width="3" height="3" fill="#000"/><rect x="357" y="473" width="1" height="1" fill="#fff"/>
<rect x="361" y="464" width="1" height="16" fill="#000"/>
<rect x="360" y="464" width="2" height="13" fill="#000"/>
<rect x="365" y="474" width="1" height="7" fill="#000"/>
<rect x="365" y="477" width="2" height="1" fill="#000"/>
<rect x="369" y="477" width="1" height="7" fill="#000"/>
<rect x="368" y="482" width="2" height="2" fill="#000"/>
<rect x="373" y="477" width="1" height="7" fill="#000"/>
<rect x="372" y="477" width="2" height="7" fill="#000"/>
<rect x="377" y="473" width="1" height="12" fill="#000"/>
<rect x="376" y="476" width="3" height="9" fill="#000"/><rect x="377" y="477" width="1" height="7" fill="#fff"/>
<rect x="381" y="452" width="1" height="27" fill="#000"/>
<rect x="380" y="453" width="3" height="21" fill="#000"/><rect x="381" y="454" width="1" height="19" fill="#fff"/>
<rect x="385" y="433" width="1" height="26" fill="#000"/>
<rect x="384" y="452" width="3" height="3" fill="#000"/><rect x="385" y="453" width="1" height="1" fill="#fff"/>
<rect x="388" y="444" width="1" height="36" fill="#000"/>
<rect x="387" y="444" width="2" height="26" fill="#000"/>
<rect x="392" y="469" width="1" height="11" fill="#000"/>
<rect x="391" y="476" width="2" height="1" fill="#000"/>
<rect x="396" y="474" width="1" height="3" fill="#000"/>
<rect x="396" y="474" width="2" height="1" fill="#000"/>
<rect x="400" y="469" width="1" height="12" fill="#000"/>
<rect x="399" y="472" width="2" height="4" fill="#000"/>
<rect x="404" y="471" width="1" height="10" fill="#000"/>
<rect x="403" y="471" width="2" height="6" fill="#000"/>
<rect x="408" y="474" width="1" height="8" fill="#000"/>
<rect x="407" y="474" width="2" height="8" fill="#000"/>
<rect x="412" y="478" width="1" height="35" fill="#000"/>
<rect x="411" y="478" width="2" height="20" fill="#000"/>
<rect x="416" y="496" width="1" height="16" fill="#000"/>
<rect x="415" y="502" width="3" height="4" fill="#000"/><rect x="416" y="503" width="1" height="2" fill="#fff"/>
<rect x="420" y="496" width="1" height="15" fill="#000"/>
<rect x="419" y="499" width="3" height="7" fill="#000"/><rect x="420" y="500" width="1" height="5" fill="#fff"/>
<rect x="423" y="485" width="1" height="14" fill="#000"/>
<rect x="422" y="492" width="2" height="7" fill="#000"/>
<rect x="427" y="498" width="1" height="7" fill="#000"/>
<rect x="426" y="498" width="2" height="7" fill="#000"/>
<rect x="431" y="496" width="1" height="10" fill="#000"/>
<rect x="430" y="503" width="3" height="3" fill="#000"/><rect x="431" y="504" width="1" height="1" fill="#fff"/>
<rect x="435" y="499" width="1" height="6" fill="#000"/>
<rect x="435" y="499" width="2" height="1" fill="#000"/>
<rect x="439" y="496" width="1" height="10" fill="#000"/>
<rect x="438" y="502" width="3" height="4" fill="#000"/><rect x="439" y="503" width="1" height="2" fill="#fff"/>
<rect x="443" y="482" width="1" height="24" fill="#000"/>
<rect x="442" y="488" width="3" height="14" fill="#000"/><rect x="443" y="489" width="1" height="12" fill="#fff"/>
<rect x="447" y="482" width="1" height="9" fill="#000"/>
<rect x="446" y="482" width="2" height="2" fill="#000"/>
<rect x="451" y="482" width="1" height="14" fill="#000"/>
<rect x="450" y="482" width="2" height="14" fill="#000"/>
<rect x="455" y="477" width="1" height="24" fill="#000"/>
<rect x="454" y="486" width="2" height="7" fill="#000"/>
<rect x="458" y="488" width="1" height="11" fill="#000"/>
<rect x="457" y="494" width="3" height="5" fill="#000"/><rect x="458" y="495" width="1" height="3" fill="#fff"/>
<rect x="462" y="485" width="1" height="11" fill="#000"/>
<rect x="461" y="492" width="3" height="3" fill="#000"/><rect x="462" y="493" width="1" height="1" fill="#fff"/>
<rect x="466" y="482" width="1" height="20" fill="#000"/>
<rect x="465" y="489" width="2" height="8" fill="#000"/>
<rect x="470" y="492" width="1" height="5" fill="#000"/>
<rect x="469" y="494" width="3" height="3" fill="#000"/><rect x="470" y="495" width="1" height="1" fill="#fff"/>
<rect x="474" y="462" width="1" height="35" fill="#000"/>
<rect x="473" y="462" width="3" height="33" fill="#000"/><rect x="474" y="463" width="1" height="31" fill="#fff"/>
<rect x="478" y="448" width="1" height="22" fill="#000"/>
<rect x="482" y="446" width="1" height="17" fill="#000"/>
<rect x="481" y="448" width="2" height="7" fill="#000"/>
<rect x="486" y="449" width="1" height="14" fill="#000"/>
<rect x="485" y="455" width="3" height="6" fill="#000"/><rect x="486" y="456" width="1" height="4" fill="#fff"/>
<rect x="490" y="449" width="1" height="22" fill="#000"/>
<rect x="489" y="449" width="2" height="22" fill="#000"/>
<rect x="493" y="464" width="1" height="21" fill="#000"/>
<rect x="492" y="466" width="3" height="9" fill="#000"/><rect x="493" y="467" width="1" height="7" fill="#fff"/>
<rect x="497" y="453" width="1" height="18" fill="#000"/>
<rect x="496" y="457" width="3" height="14" fill="#000"/><rect x="497" y="458" width="1" height="12" fill="#fff"/>
<rect x="501" y="433" width="1" height="31" fill="#000"/>
<rect x="500" y="445" width="3" height="13" fill="#000"/><rect x="501" y="446" width="1" height="11" fill="#fff"/>
<rect x="505" y="446" width="1" height="23" fill="#000"/>
<rect x="504" y="446" width="2" height="15" fill="#000"/>
<rect x="509" y="452" width="1" height="22" fill="#000"/>
<rect x="513" y="469" width="1" height="25" fill="#000"/>
<rect x="512" y="469" width="2" height="20" fill="#000"/>
<rect x="517" y="477" width="1" height="17" fill="#000"/>
<rect x="516" y="484" width="2" height="10" fill="#000"/>
<rect x="521" y="482" width="1" height="30" fill="#000"/>
<rect x="520" y="482" width="2" height="27" fill="#000"/>
<rect x="524" y="507" width="1" height="28" fill="#000"/>
<rect x="523" y="507" width="2" height="20" fill="#000"/>
<rect x="528" y="513" width="1" height="14" fill="#000"/>
<rect x="527" y="513" width="3" height="14" fill="#000"/><rect x="528" y="514" width="1" height="12" fill="#fff"/>
<rect x="532" y="513" width="1" height="9" fill="#000"/>
<rect x="531" y="513" width="2" height="9" fill="#000"/>
<rect x="536" y="515" width="1" height="16" fill="#000"/>
<rect x="535" y="515" width="2" height="16" fill="#000"/>
<rect x="540" y="516" width="1" height="17" fill="#000"/>
<rect x="539" y="521" width="3" height="12" fill="#000"/><rect x="540" y="522" width="1" height="10" fill="#fff"/>
<rect x="544" y="513" width="1" height="17" fill="#000"/>
<rect x="543" y="513" width="2" height="8" fill="#000"/>
<rect x="548" y="515" width="1" height="12" fill="#000"/>
<rect x="547" y="518" width="3" height="9" fill="#000"/><rect x="548" y="519" width="1" height="7" fill="#fff"/>
<rect x="552" y="512" width="1" height="12" fill="#000"/>
<rect x="551" y="513" width="3" height="6" fill="#000"/><rect x="552" y="514" width="1" height="4" fill="#fff"/>
<rect x="556" y="514" width="1" height="13" fill="#000"/>
<rect x="555" y="524" width="2" height="3" fill="#000"/>
<rect x="559" y="525" width="1" height="27" fill="#000"/>
<rect x="558" y="525" width="2" height="24" fill="#000"/>
<rect x="563" y="555" width="1" height="22" fill="#000"/>
<rect x="562" y="569" width="3" height="6" fill="#000"/><rect x="563" y="570" width="1" height="4" fill="#fff"/>
<rect x="567" y="560" width="1" height="8" fill="#000"/>
<rect x="566" y="560" width="3" height="8" fill="#000"/><rect x="567" y="561" width="1" height="6" fill="#fff"/>
<rect x="571" y="532" width="1" height="32" fill="#000"/>
<rect x="570" y="546" width="3" height="18" fill="#000"/><rect x="571" y="547" width="1" height="16" fill="#fff"/>
<rect x="575" y="524" width="1" height="17" fill="#000"/>
<rect x="574" y="524" width="2" height="2" fill="#000"/>
<rect x="579" y="517" width="1" height="18" fill="#000"/>
<rect x="578" y="517" width="2" height="11" fill="#000"/>
<rect x="583" y="530" width="1" height="8" fill="#000"/>
<rect x="582" y="531" width="3" height="5" fill="#000"/><rect x="583" y="532" width="1" height="3" fill="#fff"/>
<rect x="587" y="520" width="1" height="15" fill="#000"/>
<rect x="586" y="524" width="3" height="5" fill="#000"/><rect x="587" y="525" width="1" height="3" fill="#fff"/>
<rect x="591" y="495" width="1" height="23" fill="#000"/>
<rect x="590" y="495" width="3" height="18" fill="#000"/><rect x="591" y="496" width="1" height="16" fill="#fff"/>
<rect x="594" y="477" width="1" height="11" fill="#000"/>
<rect x="593" y="482" width="3" height="4" fill="#000"/><rect x="594" y="483" width="1" height="2" fill="#fff"/>
<rect x="598" y="480" width="1" height="11" fill="#000"/>
<rect x="597" y="482" width="2" height="7" fill="#000"/>
<rect x="602" y="462" width="1" height="29" fill="#000"/>
<rect x="601" y="469" width="3" height="20" fill="#000"/><rect x="602" y="470" width="1" height="18" fill="#fff"/>
<rect x="606" y="449" width="1" height="22" fill="#000"/>
<rect x="605" y="461" width="3" height="3" fill="#000"/><rect x="606" y="462" width="1" height="1" fill="#fff"/>
<rect x="610" y="448" width="1" height="17" fill="#000"/>
<rect x="609" y="454" width="3" height="10" fill="#000"/><rect x="610" y="455" width="1" height="8" fill="#fff"/>
<rect x="614" y="446" width="1" height="19" fill="#000"/>
<rect x="613" y="446" width="2" height="10" fill="#000"/>
<rect x="618" y="457" width="1" height="12" fill="#000"/>
<rect x="617" y="457" width="2" height="12" fill="#000"/>
<rect x="622" y="477" width="1" height="24" fill="#000"/>
<rect x="621" y="481" width="2" height="20" fill="#000"/>
<rect x="626" y="478" width="1" height="39" fill="#000"/>
<rect x="625" y="480" width="3" height="33" fill="#000"/><rect x="626" y="481" width="1" height="31" fill="#fff"/>
<rect x="629" y="485" width="1" height="15" fill="#000"/>
<rect x="628" y="485" width="3" height="14" fill="#000"/><rect x="629" y="486" width="1" height="12" fill="#fff"/>
<rect x="633" y="469" width="1" height="16" fill="#000"/>
<rect x="632" y="470" width="3" height="11" fill="#000"/><rect x="633" y="471" width="1" height="9" fill="#fff"/>
<rect x="637" y="461" width="1" height="32" fill="#000"/>
<rect x="636" y="462" width="3" height="8" fill="#000"/><rect x="637" y="463" width="1" height="6" fill="#fff"/>
<rect x="641" y="446" width="1" height="19" fill="#000"/>
<rect x="645" y="448" width="1" height="22" fill="#000"/>
<rect x="644" y="452" width="2" height="18" fill="#000"/>
<rect x="649" y="460" width="1" height="10" fill="#000"/>
<rect x="648" y="460" width="2" height="7" fill="#000"/>
<rect x="653" y="457" width="1" height="9" fill="#000"/>
<rect x="652" y="464" width="2" height="2" fill="#000"/>
<rect x="657" y="462" width="1" height="10" fill="#000"/>
<rect x="656" y="464" width="3" height="3" fill="#000"/><rect x="657" y="465" width="1" height="1" fill="#fff"/>
<rect x="661" y="488" width="1" height="10" fill="#000"/>
<rect x="664" y="498" width="1" height="25" fill="#000"/>
<rect x="663" y="498" width="2" height="8" fill="#000"/>
<rect x="668" y="502" width="1" height="35" fill="#000"/>
<rect x="667" y="502" width="2" height="13" fill="#000"/>
<rect x="672" y="530" width="1" height="16" fill="#000"/>
<rect x="671" y="530" width="2" height="16" fill="#000"/>
<rect x="676" y="541" width="1" height="34" fill="#000"/>
<rect x="675" y="566" width="3" height="9" fill="#000"/><rect x="676" y="567" width="1" height="7" fill="#fff"/>
<rect x="680" y="549" width="1" height="24" fill="#000"/>
<rect x="679" y="567" width="2" height="3" fill="#000"/>
<rect x="684" y="543" width="1" height="36" fill="#000"/>
<rect x="683" y="543" width="3" height="36" fill="#000"/><rect x="684" y="544" width="1" height="34" fill="#fff"/>
<rect x="688" y="535" width="1" height="16" fill="#000"/>
<rect x="687" y="541" width="2" height="8" fill="#000"/>
<rect x="692" y="542" width="1" height="24" fill="#000"/>
<rect x="691" y="553" width="2" height="7" fill="#000"/>
<rect x="696" y="548" width="1" height="18" fill="#000"/>
<rect x="695" y="552" width="2" height="4" fill="#000"/>
<rect x="699" y="563" width="1" height="21" fill="#000"/>
<rect x="698" y="563" width="2" height="21" fill="#000"/>
<rect x="703" y="570" width="1" height="14" fill="#000"/>
<rect x="702" y="579" width="3" height="5" fill="#000"/><rect x="703" y="580" width="1" height="3" fill="#fff"/>
<rect x="707" y="557" width="1" height="22" fill="#000"/>
<rect x="706" y="559" width="3" height="20" fill="#000"/><rect x="707" y="560" width="1" height="18" fill="#fff"/>
<rect x="711" y="555" width="1" height="22" fill="#000"/>
<rect x="710" y="560" width="2" height="8" fill="#000"/>
<rect x="715" y="568" width="1" height="14" fill="#000"/>
<rect x="714" y="568" width="2" height="11" fill="#000"/>
<rect x="719" y="585" width="1" height="21" fill="#000"/>
<rect x="718" y="585" width="2" height="21" fill="#000"/>
<rect x="723" y="592" width="1" height="35" fill="#000"/>
<rect x="722" y="602" width="2" height="4" fill="#000"/>
<rect x="727" y="595" width="1" height="22" fill="#000"/>
<rect x="726" y="598" width="3" height="19" fill="#000"/><rect x="727" y="599" width="1" height="17" fill="#fff"/>
<rect x="731" y="582" width="1" height="16" fill="#000"/>
<rect x="730" y="586" width="3" height="12" fill="#000"/><rect x="731" y="587" width="1" height="10" fill="#fff"/>
<rect x="734" y="564" width="1" height="19" fill="#000"/>
<rect x="733" y="571" width="3" height="12" fill="#000"/><rect x="734" y="572" width="1" height="10" fill="#fff"/>
<rect x="738" y="560" width="1" height="13" fill="#000"/>
<rect x="737" y="560" width="2" height="11" fill="#000"/>
<rect x="742" y="572" width="1" height="7" fill="#000"/>
<rect x="741" y="572" width="3" height="3" fill="#000"/><rect x="742" y="573" width="1" height="1" fill="#fff"/>
<rect x="746" y="555" width="1" height="15" fill="#000"/>
<rect x="745" y="563" width="3" height="6" fill="#000"/><rect x="746" y="564" width="1" height="4" fill="#fff"/>
<rect x="750" y="549" width="1" height="19" fill="#000"/>
<rect x="750" y="560" width="2" height="1" fill="#000"/>
<rect x="754" y="552" width="1" height="16" fill="#000"/>
<rect x="753" y="560" width="2" height="7" fill="#000"/>
<rect x="758" y="560" width="1" height="22" fill="#000"/>
<rect x="757" y="568" width="3" height="3" fill="#000"/><rect x="758" y="569" width="1" height="1" fill="#fff"/>
<rect x="762" y="550" width="1" height="14" fill="#000"/>
<rect x="761" y="550" width="3" height="14" fill="#000"/><rect x="762" y="551" width="1" height="12" fill="#fff"/>
<rect x="765" y="530" width="1" height="26" fill="#000"/>
<rect x="764" y="535" width="3" height="15" fill="#000"/><rect x="765" y="536" width="1" height="13" fill="#fff"/>
<rect x="769" y="516" width="1" height="14" fill="#000"/>
<rect x="768" y="525" width="2" height="3" fill="#000"/>
<rect x="773" y="498" width="1" height="5" fill="#000"/>
<rect x="772" y="498" width="2" height="1" fill="#000"/>
<rect x="777" y="474" width="1" height="43" fill="#000"/>
<rect x="776" y="498" width="2" height="15" fill="#000"/>
<rect x="781" y="495" width="1" height="23" fill="#000"/>
<rect x="780" y="495" width="3" height="23" fill="#000"/><rect x="781" y="496" width="1" height="21" fill="#fff"/>
<rect x="785" y="480" width="1" height="26" fill="#000"/>
<rect x="784" y="480" width="2" height="25" fill="#000"/>
<rect x="789" y="496" width="1" height="16" fill="#000"/>
<rect x="788" y="496" width="3" height="9" fill="#000"/><rect x="789" y="497" width="1" height="7" fill="#fff"/>
<rect x="793" y="464" width="1" height="23" fill="#000"/>
<rect x="792" y="464" width="3" height="17" fill="#000"/><rect x="793" y="465" width="1" height="15" fill="#fff"/>
<rect x="797" y="449" width="1" height="19" fill="#000"/>
<rect x="796" y="449" width="2" height="14" fill="#000"/>
<rect x="800" y="441" width="1" height="22" fill="#000"/>
<rect x="799" y="457" width="3" height="6" fill="#000"/><rect x="800" y="458" width="1" height="4" fill="#fff"/>
<rect x="804" y="457" width="1" height="17" fill="#000"/>
<rect x="803" y="472" width="2" height="1" fill="#000"/>
<rect x="808" y="452" width="1" height="24" fill="#000"/>
<rect x="807" y="457" width="3" height="12" fill="#000"/><rect x="808" y="458" width="1" height="10" fill="#fff"/>
<rect x="812" y="424" width="1" height="31" fill="#000"/>
<rect x="811" y="424" width="3" height="31" fill="#000"/><rect x="812" y="425" width="1" height="29" fill="#fff"/>
<rect x="816" y="413" width="1" height="19" fill="#000"/>
<rect x="815" y="420" width="2" height="6" fill="#000"/>
<rect x="820" y="416" width="1" height="19" fill="#000"/>
<rect x="819" y="426" width="2" height="9" fill="#000"/>
<rect x="824" y="409" width="1" height="31" fill="#000"/>
<rect x="823" y="428" width="3" height="9" fill="#000"/><rect x="824" y="429" width="1" height="7" fill="#fff"/>
<rect x="828" y="406" width="1" height="27" fill="#000"/>
<rect x="827" y="416" width="3" height="10" fill="#000"/><rect x="828" y="417" width="1" height="8" fill="#fff"/>
<rect x="832" y="406" width="1" height="22" fill="#000"/>
<rect x="831" y="413" width="2" height="6" fill="#000"/>
<rect x="835" y="426" width="1" height="25" fill="#000"/>
<rect x="834" y="426" width="2" height="25" fill="#000"/>
<rect x="839" y="439" width="1" height="25" fill="#000"/>
<rect x="838" y="447" width="2" height="5" fill="#000"/>
<rect x="843" y="438" width="1" height="18" fill="#000"/>
<rect x="842" y="438" width="3" height="18" fill="#000"/><rect x="843" y="439" width="1" height="16" fill="#fff"/>
<rect x="847" y="424" width="1" height="15" fill="#000"/>
<rect x="846" y="430" width="2" height="8" fill="#000"/>
<rect x="851" y="430" width="1" height="14" fill="#000"/>
<rect x="850" y="430" width="3" height="9" fill="#000"/><rect x="851" y="431" width="1" height="7" fill="#fff"/>
<rect x="855" y="413" width="1" height="17" fill="#000"/>
<rect x="854" y="423" width="2" height="6" fill="#000"/>
<rect x="859" y="427" width="1" height="13" fill="#000"/>
<rect x="858" y="428" width="2" height="6" fill="#000"/>
<rect x="863" y="398" width="1" height="36" fill="#000"/>
<rect x="862" y="398" width="3" height="36" fill="#000"/><rect x="863" y="399" width="1" height="34" fill="#fff"/>
<rect x="867" y="360" width="1" height="22" fill="#000"/>
<rect x="866" y="360" width="2" height="13" fill="#000"/>
<rect x="870" y="372" width="1" height="26" fill="#000"/>
<rect x="869" y="372" width="2" height="26" fill="#000"/>
<rect x="874" y="376" width="1" height="43" fill="#000"/>
<rect x="873" y="388" width="3" height="11" fill="#000"/><rect x="874" y="389" width="1" height="9" fill="#fff"/>
<rect x="878" y="363" width="1" height="31" fill="#000"/>
<rect x="877" y="369" width="3" height="19" fill="#000"/><rect x="878" y="370" width="1" height="17" fill="#fff"/>
<rect x="882" y="335" width="1" height="20" fill="#000"/>
<rect x="881" y="337" width="3" height="18" fill="#000"/><rect x="882" y="338" width="1" height="16" fill="#fff"/>
<rect x="886" y="335" width="1" height="38" fill="#000"/>
<rect x="885" y="335" width="2" height="38" fill="#000"/>
<rect x="890" y="340" width="1" height="37" fill="#000"/>
<rect x="889" y="347" width="3" height="27" fill="#000"/><rect x="890" y="348" width="1" height="25" fill="#fff"/>
<rect x="894" y="335" width="1" height="36" fill="#000"/>
<rect x="893" y="335" width="2" height="36" fill="#000"/>
<rect x="898" y="354" width="1" height="23" fill="#000"/>
<rect x="897" y="356" width="3" height="14" fill="#000"/><rect x="898" y="357" width="1" height="12" fill="#fff"/>
<rect x="902" y="345" width="1" height="20" fill="#000"/>
<rect x="901" y="352" width="2" height="5" fill="#000"/>
<rect x="905" y="335" width="1" height="30" fill="#000"/>
<rect x="904" y="350" width="3" height="10" fill="#000"/><rect x="905" y="351" width="1" height="8" fill="#fff"/>
<rect x="909" y="335" width="1" height="29" fill="#000"/>
<rect x="908" y="348" width="3" height="4" fill="#000"/><rect x="909" y="349" width="1" height="2" fill="#fff"/>
<rect x="913" y="340" width="1" height="47" fill="#000"/>
<rect x="912" y="340" width="2" height="47" fill="#000"/>
<rect x="917" y="402" width="1" height="26" fill="#000"/>
<rect x="916" y="402" width="3" height="26" fill="#000"/><rect x="917" y="403" width="1" height="24" fill="#fff"/>
<rect x="921" y="402" width="1" height="36" fill="#000"/>
<rect x="920" y="402" width="2" height="36" fill="#000"/>
<rect x="925" y="415" width="1" height="15" fill="#000"/>
<rect x="924" y="417" width="3" height="10" fill="#000"/><rect x="925" y="418" width="1" height="8" fill="#fff"/>
<rect x="929" y="403" width="1" height="16" fill="#000"/>
<rect x="928" y="406" width="3" height="7" fill="#000"/><rect x="929" y="407" width="1" height="5" fill="#fff"/>
<rect x="933" y="380" width="1" height="39" fill="#000"/>
<rect x="932" y="390" width="3" height="23" fill="#000"/><rect x="933" y="391" width="1" height="21" fill="#fff"/>
<rect x="937" y="376" width="1" height="13" fill="#000"/>
<rect x="936" y="384" width="3" height="4" fill="#000"/><rect x="937" y="385" width="1" height="2" fill="#fff"/>
<rect x="940" y="378" width="1" height="16" fill="#000"/>
<rect x="939" y="378" width="2" height="15" fill="#000"/>
<rect x="944" y="380" width="1" height="28" fill="#000"/>
<rect x="944" y="391" width="2" height="1" fill="#000"/>
<rect x="948" y="385" width="1" height="34" fill="#000"/>
<rect x="947" y="385" width="2" height="34" fill="#000"/>
<rect x="952" y="409" width="1" height="13" fill="#000"/>
<rect x="951" y="413" width="3" height="9" fill="#000"/><rect x="952" y="414" width="1" height="7" fill="#fff"/>
<rect x="956" y="405" width="1" height="14" fill="#000"/>
<rect x="955" y="409" width="2" height="5" fill="#000"/>
<rect x="960" y="419" width="1" height="19" fill="#000"/>
<rect x="959" y="420" width="2" height="14" fill="#000"/>
<rect x="964" y="423" width="1" height="47" fill="#000"/>
<rect x="963" y="430" width="2" height="16" fill="#000"/>
<rect x="968" y="413" width="1" height="36" fill="#000"/>
<rect x="967" y="413" width="3" height="31" fill="#000"/><rect x="968" y="414" width="1" height="29" fill="#fff"/>
<rect x="972" y="408" width="1" height="13" fill="#000"/>
<rect x="971" y="414" width="2" height="7" fill="#000"/>
<rect x="975" y="408" width="1" height="12" fill="#000"/>
<rect x="974" y="409" width="2" height="11" fill="#000"/>
<rect x="979" y="414" width="1" height="6" fill="#000"/>
<rect x="979" y="416" width="2" height="1" fill="#000"/>
<rect x="983" y="399" width="1" height="13" fill="#000"/>
<rect x="982" y="411" width="2" height="1" fill="#000"/>
<rect x="987" y="401" width="1" height="13" fill="#000"/>
<rect x="986" y="405" width="3" height="9" fill="#000"/><rect x="987" y="406" width="1" height="7" fill="#fff"/>
<rect x="991" y="385" width="1" height="17" fill="#000"/>
<rect x="990" y="390" width="3" height="12" fill="#000"/><rect x="991" y="391" width="1" height="10" fill="#fff"/>
<rect x="995" y="380" width="1" height="16" fill="#000"/>
<rect x="995" y="390" width="2" height="1" fill="#000"/>
<rect x="999" y="380" width="1" height="22" fill="#000"/>
<rect x="998" y="380" width="2" height="16" fill="#000"/>
<rect x="1003" y="391" width="1" height="8" fill="#000"/>
<rect x="1003" y="394" width="2" height="1" fill="#000"/>
<rect x="1006" y="380" width="1" height="14" fill="#000"/>
<rect x="1006" y="388" width="2" height="1" fill="#000"/>
<rect x="1010" y="380" width="1" height="12" fill="#000"/>
<rect x="1010" y="388" width="2" height="1" fill="#000"/>
<rect x="1014" y="362" width="1" height="26" fill="#000"/>
<rect x="1013" y="366" width="3" height="22" fill="#000"/><rect x="1014" y="367" width="1" height="20" fill="#fff"/>
<rect x="1018" y="326" width="1" height="21" fill="#000"/>
<rect x="1017" y="335" width="3" height="6" fill="#000"/><rect x="1018" y="336" width="1" height="4" fill="#fff"/>
<rect x="1022" y="315" width="1" height="20" fill="#000"/>
<rect x="1021" y="319" width="3" height="16" fill="#000"/><rect x="1022" y="320" width="1" height="14" fill="#fff"/>
<rect x="1026" y="305" width="1" height="28" fill="#000"/>
<rect x="1025" y="316" width="2" height="13" fill="#000"/>
<rect x="1030" y="302" width="1" height="39" fill="#000"/>
<rect x="1029" y="302" width="3" height="29" fill="#000"/><rect x="1030" y="303" width="1" height="27" fill="#fff"/>
<rect x="1034" y="280" width="1" height="67" fill="#000"/>
<rect x="1033" y="305" width="2" height="18" fill="#000"/>
<rect x="1038" y="305" width="1" height="53" fill="#000"/>
<rect x="1037" y="347" width="2" height="11" fill="#000"/>
<rect x="1041" y="316" width="1" height="36" fill="#000"/>
<rect x="1040" y="316" width="3" height="25" fill="#000"/><rect x="1041" y="317" width="1" height="23" fill="#fff"/>
<rect x="1045" y="272" width="1" height="58" fill="#000"/>
<rect x="1044" y="272" width="3" height="49" fill="#000"/><rect x="1045" y="273" width="1" height="47" fill="#fff"/>
<rect x="1049" y="245" width="1" height="28" fill="#000"/>
<rect x="1048" y="258" width="2" height="15" fill="#000"/>
<rect x="1053" y="282" width="1" height="11" fill="#000"/>
<rect x="1052" y="285" width="3" height="6" fill="#000"/><rect x="1053" y="286" width="1" height="4" fill="#fff"/>
<rect x="1057" y="239" width="1" height="48" fill="#000"/>
<rect x="1056" y="241" width="3" height="46" fill="#000"/><rect x="1057" y="242" width="1" height="44" fill="#fff"/>
<rect x="1061" y="213" width="1" height="45" fill="#000"/>
<rect x="1060" y="236" width="2" height="12" fill="#000"/>
<rect x="1065" y="226" width="1" height="32" fill="#000"/>
<rect x="1064" y="240" width="3" height="11" fill="#000"/><rect x="1065" y="241" width="1" height="9" fill="#fff"/>
<rect x="1069" y="200" width="1" height="52" fill="#000"/>
<rect x="1068" y="213" width="3" height="35" fill="#000"/><rect x="1069" y="214" width="1" height="33" fill="#fff"/>
<rect x="1073" y="204" width="1" height="20" fill="#000"/>
<rect x="1072" y="213" width="3" height="4" fill="#000"/><rect x="1073" y="214" width="1" height="2" fill="#fff"/>
<rect x="1076" y="166" width="1" height="47" fill="#000"/>
<rect x="1075" y="200" width="3" height="12" fill="#000"/><rect x="1076" y="201" width="1" height="10" fill="#fff"/>
<rect x="1080" y="184" width="1" height="49" fill="#000"/>
<rect x="1079" y="191" width="2" height="30" fill="#000"/>
<rect x="1084" y="205" width="1" height="28" fill="#000"/>
<rect x="1083" y="212" width="3" height="13" fill="#000"/><rect x="1084" y="213" width="1" height="11" fill="#fff"/>
<rect x="1088" y="181" width="1" height="31" fill="#000"/>
<rect x="1087" y="181" width="3" height="31" fill="#000"/><rect x="1088" y="182" width="1" height="29" fill="#fff"/>
<rect x="1092" y="171" width="1" height="30" fill="#000"/>
<rect x="1091" y="179" width="2" height="14" fill="#000"/>
<rect x="1096" y="169" width="1" height="36" fill="#000"/>
<rect x="1095" y="184" width="3" height="9" fill="#000"/><rect x="1096" y="185" width="1" height="7" fill="#fff"/>
<rect x="1100" y="172" width="1" height="21" fill="#000"/>
<rect x="1100" y="183" width="2" height="1" fill="#000"/>
<rect x="1104" y="177" width="1" height="12" fill="#000"/>
<rect x="1104" y="183" width="2" height="1" fill="#000"/>
<rect x="1108" y="184" width="1" height="27" fill="#000"/>
<rect x="1107" y="184" width="2" height="21" fill="#000"/>
<rect x="1111" y="193" width="1" height="11" fill="#000"/>
<rect x="1110" y="197" width="3" height="4" fill="#000"/><rect x="1111" y="198" width="1" height="2" fill="#fff"/>
<rect x="1115" y="175" width="1" height="20" fill="#000"/>
<rect x="1114" y="186" width="3" height="4" fill="#000"/><rect x="1115" y="187" width="1" height="2" fill="#fff"/>
<rect x="1119" y="175" width="1" height="19" fill="#000"/>
<rect x="1118" y="187" width="3" height="4" fill="#000"/><rect x="1119" y="188" width="1" height="2" fill="#fff"/>
<rect x="1123" y="150" width="1" height="46" fill="#000"/>
<rect x="1122" y="166" width="3" height="24" fill="#000"/><rect x="1123" y="167" width="1" height="22" fill="#fff"/>
<rect x="1127" y="148" width="1" height="14" fill="#000"/>
<rect x="1126" y="148" width="2" height="14" fill="#000"/>
<rect x="1131" y="153" width="1" height="21" fill="#000"/>
<rect x="1130" y="153" width="2" height="21" fill="#000"/>
<rect x="1135" y="183" width="1" height="46" fill="#000"/>
<rect x="1134" y="184" width="2" height="26" fill="#000"/>
<rect x="1139" y="191" width="1" height="24" fill="#000"/>
<rect x="1138" y="199" width="3" height="16" fill="#000"/><rect x="1139" y="200" width="1" height="14" fill="#fff"/>
<rect x="1143" y="184" width="1" height="19" fill="#000"/>
<rect x="1142" y="184" width="2" height="14" fill="#000"/>
<rect x="1146" y="186" width="1" height="35" fill="#000"/>
<rect x="1145" y="196" width="3" height="25" fill="#000"/><rect x="1146" y="197" width="1" height="23" fill="#fff"/>
<rect x="1150" y="190" width="1" height="27" fill="#000"/>
<rect x="1149" y="196" width="2" height="12" fill="#000"/>
<rect x="1154" y="204" width="1" height="13" fill="#000"/>
<rect x="1154" y="209" width="2" height="1" fill="#000"/>
<rect x="1158" y="190" width="1" height="30" fill="#000"/>
<rect x="1157" y="200" width="3" height="18" fill="#000"/><rect x="1158" y="201" width="1" height="16" fill="#fff"/>
<rect x="1162" y="153" width="1" height="29" fill="#000"/>
<rect x="1161" y="161" width="3" height="21" fill="#000"/><rect x="1162" y="162" width="1" height="19" fill="#fff"/>
<rect x="1166" y="161" width="1" height="13" fill="#000"/>
<rect x="1165" y="161" width="2" height="5" fill="#000"/>
<rect x="1170" y="168" width="1" height="14" fill="#000"/>
<rect x="1169" y="175" width="3" height="7" fill="#000"/><rect x="1170" y="176" width="1" height="5" fill="#fff"/>
<rect x="1174" y="153" width="1" height="30" fill="#000"/>
<rect x="1173" y="169" width="3" height="13" fill="#000"/><rect x="1174" y="170" width="1" height="11" fill="#fff"/>
<rect x="1178" y="158" width="1" height="20" fill="#000"/>
<rect x="1177" y="164" width="2" height="9" fill="#000"/>
<rect x="1181" y="162" width="1" height="14" fill="#000"/>
<rect x="1180" y="169" width="2" height="5" fill="#000"/>
<rect x="1185" y="168" width="1" height="11" fill="#000"/>
<rect x="1189" y="167" width="1" height="11" fill="#000"/>
<rect x="1188" y="167" width="2" height="11" fill="#000"/>
<rect x="1193" y="179" width="1" height="13" fill="#000"/>
<rect x="1192" y="186" width="2" height="5" fill="#000"/>
<rect x="1197" y="182" width="1" height="21" fill="#000"/>
<rect x="1196" y="185" width="3" height="11" fill="#000"/><rect x="1197" y="186" width="1" height="9" fill="#fff"/>
<rect x="1201" y="172" width="1" height="14" fill="#000"/>
<rect x="1200" y="184" width="2" height="2" fill="#000"/>
<rect x="1205" y="178" width="1" height="14" fill="#000"/>
<rect x="1204" y="184" width="2" height="8" fill="#000"/>
<rect x="1209" y="186" width="1" height="14" fill="#000"/>
<rect x="1208" y="192" width="2" height="7" fill="#000"/>
<rect x="1212" y="195" width="1" height="22" fill="#000"/>
<rect x="1211" y="200" width="2" height="12" fill="#000"/>
<rect x="1216" y="194" width="1" height="28" fill="#000"/>
<rect x="1215" y="199" width="3" height="14" fill="#000"/><rect x="1216" y="200" width="1" height="12" fill="#fff"/>
<rect x="1220" y="186" width="1" height="14" fill="#000"/>
<rect x="1224" y="198" width="1" height="25" fill="#000"/>
<rect x="1223" y="198" width="2" height="11" fill="#000"/>
<rect x="1228" y="157" width="1" height="48" fill="#000"/>
<rect x="1227" y="159" width="3" height="46" fill="#000"/><rect x="1228" y="160" width="1" height="44" fill="#fff"/>
<rect x="1232" y="151" width="1" height="15" fill="#000"/>
<rect x="1231" y="155" width="2" height="11" fill="#000"/>
<rect x="1236" y="155" width="1" height="16" fill="#000"/>
<rect x="1235" y="157" width="2" height="12" fill="#000"/>
<rect x="1240" y="165" width="1" height="23" fill="#000"/>
<rect x="1239" y="166" width="2" height="8" fill="#000"/>
<rect x="1244" y="175" width="1" height="13" fill="#000"/>
<rect x="1243" y="180" width="2" height="6" fill="#000"/>
<rect x="1247" y="174" width="1" height="19" fill="#000"/>
<rect x="1246" y="174" width="2" height="19" fill="#000"/>
<rect x="1251" y="192" width="1" height="16" fill="#000"/>
<rect x="1250" y="195" width="2" height="9" fill="#000"/>
<rect x="1255" y="184" width="1" height="21" fill="#000"/>
<rect x="1255" y="199" width="2" height="1" fill="#000"/>
<rect x="1259" y="198" width="1" height="6" fill="#000"/>
<rect x="1258" y="198" width="2" height="5" fill="#000"/>
<rect x="1263" y="202" width="1" height="21" fill="#000"/>
<rect x="1262" y="206" width="2" height="17" fill="#000"/>
<rect x="1267" y="223" width="1" height="29" fill="#000"/>
<rect x="1266" y="223" width="2" height="29" fill="#000"/>
<rect x="1271" y="254" width="1" height="20" fill="#000"/>
<rect x="1270" y="262" width="3" height="3" fill="#000"/><rect x="1271" y="263" width="1" height="1" fill="#fff"/>
<rect x="1275" y="232" width="1" height="31" fill="#000"/>
<rect x="1274" y="251" width="3" height="11" fill="#000"/><rect x="1275" y="252" width="1" height="9" fill="#fff"/>
<rect x="1279" y="253" width="1" height="7" fill="#000"/>
<rect x="1278" y="253" width="2" height="7" fill="#000"/>
<rect x="1282" y="257" width="1" height="7" fill="#000"/>
<rect x="1281" y="257" width="2" height="7" fill="#000"/>
<rect x="1286" y="251" width="1" height="16" fill="#000"/>
<rect x="1285" y="262" width="3" height="3" fill="#000"/><rect x="1286" y="263" width="1" height="1" fill="#fff"/>
<rect x="1290" y="257" width="1" height="13" fill="#000"/>
<rect x="1289" y="267" width="2" height="3" fill="#000"/>
<rect x="1294" y="273" width="1" height="34" fill="#000"/>
<rect x="1293" y="281" width="2" height="17" fill="#000"/>
<rect x="1298" y="281" width="1" height="42" fill="#000"/>
<rect x="1297" y="299" width="3" height="24" fill="#000"/><rect x="1298" y="300" width="1" height="22" fill="#fff"/>
<rect x="1302" y="283" width="1" height="16" fill="#000"/>
<rect x="1301" y="288" width="3" height="3" fill="#000"/><rect x="1302" y="289" width="1" height="1" fill="#fff"/>
<rect x="1306" y="281" width="1" height="12" fill="#000"/>
<rect x="1305" y="281" width="2" height="9" fill="#000"/>
<rect x="1310" y="261" width="1" height="30" fill="#000"/>
<rect x="1309" y="264" width="3" height="23" fill="#000"/><rect x="1310" y="265" width="1" height="21" fill="#fff"/>
<rect x="1314" y="217" width="1" height="48" fill="#000"/>
<rect x="1313" y="217" width="3" height="48" fill="#000"/><rect x="1314" y="218" width="1" height="46" fill="#fff"/>
<rect x="1317" y="211" width="1" height="32" fill="#000"/>
<rect x="1316" y="223" width="2" height="18" fill="#000"/>
<rect x="1321" y="218" width="1" height="27" fill="#000"/>
<rect x="1320" y="232" width="3" height="13" fill="#000"/><rect x="1321" y="233" width="1" height="11" fill="#fff"/>
<rect x="1325" y="224" width="1" height="10" fill="#000"/>
<rect x="1325" y="229" width="2" height="1" fill="#000"/>
<rect x="1329" y="195" width="1" height="36" fill="#000"/>
<rect x="1328" y="212" width="3" height="10" fill="#000"/><rect x="1329" y="213" width="1" height="8" fill="#fff"/>
<rect x="1333" y="198" width="1" height="20" fill="#000"/>
<rect x="1332" y="205" width="3" height="8" fill="#000"/><rect x="1333" y="206" width="1" height="6" fill="#fff"/>
<rect x="1337" y="199" width="1" height="9" fill="#000"/>
<rect x="1336" y="202" width="3" height="3" fill="#000"/><rect x="1337" y="203" width="1" height="1" fill="#fff"/>
<rect x="1341" y="191" width="1" height="16" fill="#000"/>
<rect x="1340" y="198" width="3" height="4" fill="#000"/><rect x="1341" y="199" width="1" height="2" fill="#fff"/>
<rect x="1345" y="195" width="1" height="26" fill="#000"/>
<rect x="1344" y="199" width="2" height="14" fill="#000"/>
<rect x="1349" y="199" width="1" height="16" fill="#000"/>
<rect x="1348" y="199" width="3" height="16" fill="#000"/><rect x="1349" y="200" width="1" height="14" fill="#fff"/>
<rect x="1352" y="158" width="1" height="41" fill="#000"/>
<rect x="1351" y="161" width="3" height="38" fill="#000"/><rect x="1352" y="162" width="1" height="36" fill="#fff"/>
<rect x="1356" y="142" width="1" height="29" fill="#000"/>
<rect x="1355" y="161" width="2" height="5" fill="#000"/>
<rect x="1360" y="140" width="1" height="41" fill="#000"/>
<rect x="1359" y="146" width="3" height="21" fill="#000"/><rect x="1360" y="147" width="1" height="19" fill="#fff"/>
</g>
<line x1="622.5" y1="438.3" x2="1296" y2="166" stroke="#228b22" stroke-width="1.1"/>
<path d="M644.6 441.8 C644.6 564.5 683.4 687.2 722.1 687.2 C760.9 687.2 799.6 564.3 799.6 441.4" fill="none" stroke="#228b22" stroke-width="1.15"/>
<path d="M799.6 441.2 C799.6 467.8 803.5 494.3 807.3 494.3 C811.2 494.3 815.1 471.1 815.1 448" fill="none" stroke="#228b22" stroke-width="1.15"/>
<path d="M882.8 330 C882.8 396.7 918.0 463.4 953.2 463.4 C988.4 463.4 1023.6 396.7 1023.6 330" fill="none" stroke="#228b22" stroke-width="1.15"/>
<rect x="749" y="443" width="101.8" height="13.6" fill="#228b22" fill-opacity="0.58" stroke="#228b22" stroke-width="1"/>
<rect x="1115.5" y="147.4" width="138.1" height="6.1" fill="#228b22" fill-opacity="0.58" stroke="#228b22" stroke-width="1"/>
<rect x="1103.2" y="223.7" width="171.4" height="7.5" fill="#228b22" fill-opacity="0.58" stroke="#228b22" stroke-width="1"/>
<rect x="1132.4" y="182.4" width="5.4" height="47.2" fill="#228b22" fill-opacity="0.58" stroke="#228b22" stroke-width="1"/>
<rect x="1222.6" y="155.2" width="10.9" height="53.2" fill="#228b22" fill-opacity="0.58" stroke="#228b22" stroke-width="1"/>
<g shape-rendering="crispEdges" fill="#00008e"><rect x="92" y="260" width="59" height="1"/><rect x="92" y="481" width="69" height="1"/><rect x="121" y="260" width="1" height="221"/></g>
<path d="M121.5 260.5 l-4 6.5 h8 z M121.5 481.5 l-4 -6.5 h8 z" fill="#00008e"/>
<g shape-rendering="crispEdges" fill="#00008e"><rect x="781" y="333" width="111" height="1"/><rect x="781" y="454" width="111" height="1"/><rect x="836" y="333" width="1" height="121"/></g>
<path d="M836.5 333.5 l-4 6.5 h8 z M836.5 454.5 l-4 -6.5 h8 z" fill="#00008e"/>
<g shape-rendering="crispEdges" fill="#00008e"><rect x="1226" y="154" width="20" height="1"/><rect x="1226" y="357" width="20" height="1"/><rect x="1236" y="154" width="1" height="203"/></g>
<path d="M1236.5 154.5 l-4 6.5 h8 z M1236.5 357.5 l-4 -6.5 h8 z" fill="#00008e"/>
<g filter="url(#sh)"><rect x="95.5" y="357.6" width="52.900000000000006" height="20.599999999999966" rx="1.6" fill="url(#gLbl)" stroke="#8a8a8a" stroke-width="0.8"/></g>
<text x="103.6" y="373.3"  class="tk" font-size="11.8" fill="#000" textLength="36.6" lengthAdjust="spacingAndGlyphs">-31.9%</text>
<g filter="url(#sh)"><rect x="812.6" y="380" width="48.39999999999998" height="20.399999999999977" rx="1.6" fill="url(#gLbl)" stroke="#8a8a8a" stroke-width="0.8"/></g>
<text x="820.2" y="395.7"  class="tk" font-size="11.8" fill="#000" textLength="32.8" lengthAdjust="spacingAndGlyphs">24.2%</text>
<g filter="url(#sh)"><rect x="1210.6" y="242" width="52.80000000000018" height="20.600000000000023" rx="1.6" fill="url(#gLbl)" stroke="#8a8a8a" stroke-width="0.8"/></g>
<text x="1218.6" y="257.7"  class="tk" font-size="11.8" fill="#000" textLength="36.6" lengthAdjust="spacingAndGlyphs">-25.2%</text>
<path d="M1232.3 160.0 C1232.4 168.3 1232.2 168.7 1232.5 185.0 C1232.8 201.3 1231.6 191.4 1233.3 208.8 C1235.0 226.2 1234.6 221.0 1237.7 237.1 C1240.8 253.2 1239.3 244.5 1242.6 257.0 C1245.9 269.5 1243.6 262.2 1247.5 274.5 C1251.4 286.8 1249.1 281.6 1254.3 294.0 C1259.5 306.4 1256.6 301.2 1263.1 311.6 C1269.6 322.0 1266.6 318.5 1273.8 325.2 C1281.0 331.9 1278.5 329.0 1284.6 331.6 C1290.7 334.2 1288.4 332.7 1292.2 333.0 C1296.0 333.3 1293.5 333.1 1296.1 332.6 C1298.7 332.0 1297.4 332.4 1299.9 331.3 C1302.5 330.1 1301.2 330.8 1303.8 329.1 C1306.3 327.4 1305.0 328.4 1307.6 326.2 C1310.1 324.0 1308.8 325.2 1311.3 322.5 C1313.8 319.9 1312.5 321.3 1315.0 318.2 C1317.4 315.0 1316.2 316.7 1318.6 313.1 C1320.9 309.6 1319.8 311.4 1322.1 307.4 C1324.3 303.5 1323.2 305.5 1325.4 301.2 C1327.7 296.8 1326.6 299.1 1328.7 294.3 C1330.8 289.6 1329.8 292.0 1331.8 286.9 C1333.9 281.9 1332.9 284.5 1334.8 279.1 C1336.8 273.7 1335.8 276.5 1337.6 270.8 C1339.5 265.1 1338.6 268.0 1340.3 262.1 C1342.0 256.1 1341.2 259.2 1342.8 253.0 C1344.3 246.8 1343.6 249.9 1345.0 243.6 C1346.4 237.2 1345.8 240.4 1347.1 233.8 C1348.3 227.3 1347.7 230.6 1348.9 223.8 C1350.0 217.1 1349.5 220.5 1350.4 213.6 C1351.4 206.8 1351.0 210.2 1351.8 203.2 C1352.5 196.2 1352.2 199.7 1352.8 192.7 C1353.4 185.6 1353.2 189.1 1353.6 182.0 C1354.0 174.9 1353.8 178.4 1354.0 171.3 C1354.3 164.1 1354.1 164.1 1354.2 160.5" fill="none" stroke="#228b22" stroke-width="1.15"/>
<path d="M145.0 487.5 C150.0 485.0 148.3 485.4 160.0 480.0 C171.7 474.6 166.7 476.7 180.0 471.2 C193.3 465.8 185.0 469.2 200.0 463.8 C215.0 458.3 208.3 460.8 225.0 455.0 C241.7 449.2 233.3 451.7 250.0 446.2 C266.7 440.8 258.3 442.9 275.0 438.8 C291.7 434.6 283.3 436.4 300.0 433.8 C316.7 431.1 308.3 432.6 325.0 430.8 C341.7 428.9 333.3 429.9 350.0 428.2 C366.7 426.6 358.3 427.7 375.0 425.8 C391.7 423.8 383.3 424.2 400.0 422.5 C416.7 420.8 408.3 421.6 425.0 420.5 C441.7 419.4 436.7 419.8 450.0 419.2 C463.3 418.7 452.5 418.9 465.0 418.8 C477.5 418.6 472.5 418.2 487.5 418.8 C502.5 419.3 494.2 418.6 510.0 420.5 C525.8 422.4 518.3 421.8 535.0 424.5 C551.7 427.2 543.3 425.8 560.0 428.8 C576.7 431.7 568.3 430.3 585.0 433.2 C601.7 436.2 595.0 435.2 610.0 437.5 C625.0 439.8 614.2 437.1 630.0 440.0 C645.8 442.9 642.5 441.2 657.5 446.2 C672.5 451.2 664.2 449.6 675.0 455.0 C685.8 460.4 680.0 457.9 690.0 462.5 C700.0 467.1 695.0 464.2 705.0 468.8 C715.0 473.3 710.0 471.7 720.0 476.2 C730.0 480.8 725.0 478.6 735.0 482.5 C745.0 486.4 740.0 484.9 750.0 488.0 C760.0 491.1 755.0 489.8 765.0 491.8 C775.0 493.7 770.0 492.7 780.0 493.8 C790.0 494.8 783.3 494.6 795.0 495.0 C806.7 495.4 801.7 495.0 815.0 495.0 C828.3 495.0 823.3 495.0 835.0 495.0 C846.7 495.0 840.0 495.4 850.0 495.0 C860.0 494.6 855.0 495.2 865.0 493.8 C875.0 492.3 866.7 493.2 880.0 490.8 C893.3 488.2 888.3 488.8 905.0 486.2 C921.7 483.7 913.3 484.9 930.0 483.0 C946.7 481.1 938.3 481.9 955.0 480.5 C971.7 479.1 965.0 480.2 980.0 478.8 C995.0 477.3 986.7 478.8 1000.0 476.2 C1013.3 473.8 1006.7 474.6 1020.0 471.2 C1033.3 467.9 1026.7 470.0 1040.0 466.2 C1053.3 462.5 1046.7 465.0 1060.0 460.0 C1073.3 455.0 1068.3 456.2 1080.0 451.2 C1091.7 446.2 1085.0 449.6 1095.0 445.0 C1105.0 440.4 1098.3 443.8 1110.0 437.5 C1121.7 431.2 1116.7 433.8 1130.0 426.2 C1143.3 418.8 1136.7 422.9 1150.0 415.0 C1163.3 407.1 1156.7 410.8 1170.0 402.5 C1183.3 394.2 1176.7 397.9 1190.0 390.0 C1203.3 382.1 1196.7 385.8 1210.0 378.8 C1223.3 371.7 1216.7 375.4 1230.0 368.8 C1243.3 362.1 1236.7 365.8 1250.0 358.8 C1263.3 351.7 1256.7 355.0 1270.0 347.5 C1283.3 340.0 1276.7 343.8 1290.0 336.2 C1303.3 328.8 1296.7 332.5 1310.0 325.0 C1323.3 317.5 1318.3 320.0 1330.0 313.8 C1341.7 307.5 1334.7 311.8 1345.0 306.2 C1355.3 300.7 1355.7 300.2 1361.0 297.2" fill="none" stroke="#ff3aea" stroke-width="1.5" stroke-linejoin="round"/>
<path d="M3.0 472.0 C10.3 464.7 9.3 465.2 25.0 450.0 C40.7 434.8 33.3 440.4 50.0 426.2 C66.7 412.1 58.3 420.8 75.0 407.5 C91.7 394.2 83.3 400.0 100.0 386.2 C116.7 372.5 108.3 378.3 125.0 366.2 C141.7 354.2 137.5 357.1 150.0 350.0 C162.5 342.9 152.5 348.2 162.5 345.0 C172.5 341.8 169.2 341.5 180.0 340.5 C190.8 339.5 184.2 340.1 195.0 342.0 C205.8 343.9 200.8 342.3 212.5 346.2 C224.2 350.2 217.5 348.3 230.0 353.8 C242.5 359.2 236.7 356.2 250.0 362.5 C263.3 368.8 258.3 364.2 270.0 372.5 C281.7 380.8 275.0 377.9 285.0 387.5 C295.0 397.1 290.0 393.3 300.0 401.2 C310.0 409.2 305.0 402.9 315.0 411.2 C325.0 419.6 320.0 416.7 330.0 426.2 C340.0 435.8 335.0 432.1 345.0 440.0 C355.0 447.9 350.8 445.0 360.0 450.0 C369.2 455.0 362.5 453.2 372.5 455.0 C382.5 456.8 379.2 453.8 390.0 455.5 C400.8 457.2 393.3 456.6 405.0 460.0 C416.7 463.4 413.3 462.6 425.0 465.8 C436.7 468.9 430.0 467.2 440.0 469.5 C450.0 471.8 445.8 470.5 455.0 472.5 C464.2 474.5 457.5 474.8 467.5 475.5 C477.5 476.2 473.3 474.7 485.0 474.5 C496.7 474.3 490.8 474.0 502.5 475.0 C514.2 476.0 507.5 474.6 520.0 477.5 C532.5 480.4 526.7 479.6 540.0 483.8 C553.3 487.9 548.3 486.1 560.0 490.0 C571.7 493.9 565.0 492.3 575.0 495.5 C585.0 498.7 580.8 498.2 590.0 499.5 C599.2 500.8 594.2 500.3 602.5 499.5 C610.8 498.7 605.8 498.5 615.0 497.0 C624.2 495.5 620.0 496.1 630.0 495.0 C640.0 493.9 635.0 494.8 645.0 493.8 C655.0 492.7 651.7 491.8 660.0 491.8 C668.3 491.8 663.3 491.4 670.0 493.8 C676.7 496.1 673.3 495.7 680.0 498.8 C686.7 501.8 682.5 499.2 690.0 503.0 C697.5 506.8 694.2 505.6 702.5 510.0 C710.8 514.4 706.7 512.5 715.0 516.2 C723.3 520.0 719.2 518.5 727.5 521.2 C735.8 524.0 731.7 522.6 740.0 524.5 C748.3 526.4 744.2 526.2 752.5 527.0 C760.8 527.8 756.7 527.5 765.0 527.0 C773.3 526.5 769.2 526.2 777.5 525.5 C785.8 524.8 781.7 525.3 790.0 525.0 C798.3 524.7 795.0 524.7 802.5 524.5 C810.0 524.3 805.8 525.6 812.5 524.5 C819.2 523.4 815.0 523.2 822.5 521.2 C830.0 519.3 825.8 520.2 835.0 518.8 C844.2 517.3 840.8 519.1 850.0 517.0 C859.2 514.9 854.2 517.3 862.5 512.5 C870.8 507.7 866.7 510.0 875.0 502.5 C883.3 495.0 880.0 498.3 887.5 490.0 C895.0 481.7 889.2 487.5 897.5 477.5 C905.8 467.5 901.7 471.2 912.5 460.0 C923.3 448.8 919.2 453.8 930.0 443.8 C940.8 433.8 935.8 437.9 945.0 430.0 C954.2 422.1 949.2 425.0 957.5 420.0 C965.8 415.0 960.8 418.5 970.0 415.0 C979.2 411.5 975.0 413.2 985.0 409.5 C995.0 405.8 990.8 406.9 1000.0 403.8 C1009.2 400.6 1004.2 402.9 1012.5 400.0 C1020.8 397.1 1015.8 400.0 1025.0 395.0 C1034.2 390.0 1030.0 391.7 1040.0 385.0 C1050.0 378.3 1045.0 382.1 1055.0 375.0 C1065.0 367.9 1059.2 372.1 1070.0 363.8 C1080.8 355.4 1075.8 359.6 1087.5 350.0 C1099.2 340.4 1094.2 346.2 1105.0 335.0 C1115.8 323.8 1110.8 326.7 1120.0 316.2 C1129.2 305.8 1124.2 312.1 1132.5 303.8 C1140.8 295.4 1136.7 300.4 1145.0 291.2 C1153.3 282.1 1145.6 291.3 1157.4 276.3 C1169.2 261.3 1166.1 262.9 1180.4 246.2 C1194.7 229.5 1190.6 235.7 1200.4 226.3 C1210.2 216.9 1202.8 223.8 1209.7 218.0 C1216.6 212.2 1213.4 214.9 1221.0 208.8 C1228.6 202.7 1226.8 203.8 1232.6 199.6 C1238.4 195.4 1232.9 198.9 1238.4 196.2 C1243.9 193.5 1241.8 193.9 1249.2 191.4 C1256.6 188.9 1254.0 189.5 1260.7 188.8 C1267.4 188.1 1262.6 188.0 1269.3 189.4 C1276.0 190.8 1271.1 189.5 1280.7 193.1 C1290.3 196.7 1288.0 195.7 1298.0 200.3 C1308.0 204.9 1301.3 202.9 1310.6 206.8 C1319.9 210.7 1316.9 210.2 1326.0 212.0 C1335.1 213.8 1330.1 212.3 1338.0 212.3 C1345.9 212.3 1344.3 212.5 1349.6 212.0 C1354.9 211.5 1350.2 211.1 1354.0 210.8 C1357.8 210.5 1358.7 210.9 1361.0 211.0" fill="none" stroke="#2020ff" stroke-width="1.15" stroke-linejoin="round"/>
<g class="tk" font-size="11.3" fill="#000">
<text x="753" y="432.8" textLength="43.5" lengthAdjust="spacingAndGlyphs">Breakout</text>
<text x="945.8" y="370" textLength="18.5" lengthAdjust="spacingAndGlyphs">Cup</text>
<text x="1158.3" y="199.1" textLength="54.5" lengthAdjust="spacingAndGlyphs">Exhaustion</text>
<text x="1158.3" y="213.8" textLength="17.5" lengthAdjust="spacingAndGlyphs">gap</text>
<text x="649" y="478.6" font-size="11.6" stroke-width="0.08" textLength="147" lengthAdjust="spacingAndGlyphs">mẫu hình CUp and Handle</text>
<text x="1371.3" y="187.6" font-size="11.6" stroke-width="0.08" textLength="107" lengthAdjust="spacingAndGlyphs">Cup (Nền giá số 3)</text>
<text x="1371.3" y="202.8" font-size="11.6" stroke-width="0.08" textLength="206.5" lengthAdjust="spacingAndGlyphs">cũng thận trọng với mô hình ba đỉnh</text>
</g>
</g>
<g font-size="11.4">
<text class="tk" x="7.5" y="68" fill="#000" textLength="194.5" lengthAdjust="spacingAndGlyphs">CTCP Sonadezi Chau Duc - SZC (MS 7) &amp;</text>
<text x="205" y="68" fill="#ff00ff" stroke="#ff00ff" stroke-width="0.2" textLength="164.3" lengthAdjust="spacingAndGlyphs">150 Period Simple Moving Average</text>
<text x="372.4" y="68" fill="#0000ff" stroke="#0000ff" stroke-width="0.2" textLength="169" lengthAdjust="spacingAndGlyphs">&amp; 50 Period Simple Moving Average</text>
<text class="tk" x="7.5" y="660" fill="#000" textLength="255.6" lengthAdjust="spacingAndGlyphs">Volume &amp; 10 Period Simple Moving Average of Volume</text>
</g>
<g shape-rendering="crispEdges" fill="#000">
<rect x="4" y="817" width="1" height="32"/>
<rect x="8" y="832" width="1" height="17"/>
<rect x="11" y="835" width="1" height="14"/>
<rect x="15" y="821" width="1" height="28"/>
<rect x="19" y="833" width="1" height="16"/>
<rect x="23" y="834" width="1" height="15"/>
<rect x="27" y="830" width="1" height="19"/>
<rect x="31" y="833" width="1" height="16"/>
<rect x="35" y="841" width="1" height="8"/>
<rect x="39" y="841" width="1" height="8"/>
<rect x="43" y="837" width="1" height="12"/>
<rect x="46" y="837" width="1" height="12"/>
<rect x="50" y="830" width="1" height="19"/>
<rect x="54" y="828" width="1" height="21"/>
<rect x="58" y="839" width="1" height="10"/>
<rect x="62" y="835" width="1" height="14"/>
<rect x="66" y="824" width="1" height="25"/>
<rect x="70" y="832" width="1" height="17"/>
<rect x="74" y="840" width="1" height="9"/>
<rect x="77" y="796" width="1" height="53"/>
<rect x="81" y="817" width="1" height="32"/>
<rect x="85" y="819" width="1" height="30"/>
<rect x="89" y="807" width="1" height="42"/>
<rect x="93" y="819" width="1" height="30"/>
<rect x="97" y="822" width="1" height="27"/>
<rect x="101" y="836" width="1" height="13"/>
<rect x="105" y="830" width="1" height="19"/>
<rect x="109" y="801" width="1" height="48"/>
<rect x="112" y="840" width="1" height="9"/>
<rect x="116" y="829" width="1" height="20"/>
<rect x="120" y="831" width="1" height="18"/>
<rect x="124" y="839" width="1" height="10"/>
<rect x="128" y="804" width="1" height="45"/>
<rect x="132" y="828" width="1" height="21"/>
<rect x="136" y="837" width="1" height="12"/>
<rect x="140" y="837" width="1" height="12"/>
<rect x="144" y="831" width="1" height="18"/>
<rect x="147" y="825" width="1" height="24"/>
<rect x="151" y="833" width="1" height="16"/>
<rect x="155" y="831" width="1" height="18"/>
<rect x="159" y="830" width="1" height="19"/>
<rect x="163" y="827" width="1" height="22"/>
<rect x="167" y="827" width="1" height="22"/>
<rect x="171" y="844" width="1" height="5"/>
<rect x="175" y="845" width="1" height="4"/>
<rect x="179" y="834" width="1" height="15"/>
<rect x="182" y="825" width="1" height="24"/>
<rect x="186" y="836" width="1" height="13"/>
<rect x="190" y="844" width="1" height="5"/>
<rect x="194" y="834" width="1" height="15"/>
<rect x="198" y="843" width="1" height="6"/>
<rect x="202" y="835" width="1" height="14"/>
<rect x="206" y="839" width="1" height="10"/>
<rect x="210" y="842" width="1" height="7"/>
<rect x="214" y="841" width="1" height="8"/>
<rect x="217" y="845" width="1" height="4"/>
<rect x="221" y="839" width="1" height="10"/>
<rect x="225" y="842" width="1" height="7"/>
<rect x="229" y="847" width="1" height="2"/>
<rect x="233" y="845" width="1" height="4"/>
<rect x="237" y="844" width="1" height="5"/>
<rect x="241" y="844" width="1" height="5"/>
<rect x="245" y="843" width="1" height="6"/>
<rect x="249" y="846" width="1" height="3"/>
<rect x="252" y="844" width="1" height="5"/>
<rect x="256" y="845" width="1" height="4"/>
<rect x="260" y="842" width="1" height="7"/>
<rect x="264" y="841" width="1" height="8"/>
<rect x="268" y="844" width="1" height="5"/>
<rect x="272" y="847" width="1" height="2"/>
<rect x="276" y="843" width="1" height="6"/>
<rect x="280" y="836" width="1" height="13"/>
<rect x="284" y="841" width="1" height="8"/>
<rect x="287" y="844" width="1" height="5"/>
<rect x="291" y="834" width="1" height="15"/>
<rect x="295" y="840" width="1" height="9"/>
<rect x="299" y="844" width="1" height="5"/>
<rect x="303" y="838" width="1" height="11"/>
<rect x="307" y="844" width="1" height="5"/>
<rect x="311" y="845" width="1" height="4"/>
<rect x="315" y="842" width="1" height="7"/>
<rect x="318" y="840" width="1" height="9"/>
<rect x="322" y="842" width="1" height="7"/>
<rect x="326" y="846" width="1" height="3"/>
<rect x="330" y="846" width="1" height="3"/>
<rect x="334" y="841" width="1" height="8"/>
<rect x="338" y="845" width="1" height="4"/>
<rect x="342" y="843" width="1" height="6"/>
<rect x="346" y="845" width="1" height="4"/>
<rect x="350" y="845" width="1" height="4"/>
<rect x="353" y="846" width="1" height="3"/>
<rect x="357" y="845" width="1" height="4"/>
<rect x="361" y="846" width="1" height="3"/>
<rect x="365" y="845" width="1" height="4"/>
<rect x="369" y="845" width="1" height="4"/>
<rect x="373" y="845" width="1" height="4"/>
<rect x="377" y="845" width="1" height="4"/>
<rect x="381" y="835" width="1" height="14"/>
<rect x="385" y="823" width="1" height="26"/>
<rect x="388" y="837" width="1" height="12"/>
<rect x="392" y="848" width="1" height="1"/>
<rect x="396" y="845" width="1" height="4"/>
<rect x="400" y="845" width="1" height="4"/>
<rect x="404" y="844" width="1" height="5"/>
<rect x="408" y="845" width="1" height="4"/>
<rect x="412" y="834" width="1" height="15"/>
<rect x="416" y="844" width="1" height="5"/>
<rect x="420" y="847" width="1" height="2"/>
<rect x="423" y="846" width="1" height="3"/>
<rect x="427" y="847" width="1" height="2"/>
<rect x="431" y="845" width="1" height="4"/>
<rect x="435" y="848" width="1" height="1"/>
<rect x="439" y="847" width="1" height="2"/>
<rect x="443" y="844" width="1" height="5"/>
<rect x="447" y="847" width="1" height="2"/>
<rect x="451" y="847" width="1" height="2"/>
<rect x="455" y="839" width="1" height="10"/>
<rect x="458" y="848" width="1" height="1"/>
<rect x="462" y="844" width="1" height="5"/>
<rect x="466" y="846" width="1" height="3"/>
<rect x="470" y="847" width="1" height="2"/>
<rect x="474" y="837" width="1" height="12"/>
<rect x="478" y="834" width="1" height="15"/>
<rect x="482" y="838" width="1" height="11"/>
<rect x="486" y="838" width="1" height="11"/>
<rect x="490" y="834" width="1" height="15"/>
<rect x="493" y="840" width="1" height="9"/>
<rect x="497" y="842" width="1" height="7"/>
<rect x="501" y="817" width="1" height="32"/>
<rect x="505" y="834" width="1" height="15"/>
<rect x="509" y="836" width="1" height="13"/>
<rect x="513" y="828" width="1" height="21"/>
<rect x="517" y="837" width="1" height="12"/>
<rect x="521" y="834" width="1" height="15"/>
<rect x="524" y="837" width="1" height="12"/>
<rect x="528" y="844" width="1" height="5"/>
<rect x="532" y="847" width="1" height="2"/>
<rect x="536" y="843" width="1" height="6"/>
<rect x="540" y="845" width="1" height="4"/>
<rect x="544" y="845" width="1" height="4"/>
<rect x="548" y="846" width="1" height="3"/>
<rect x="552" y="846" width="1" height="3"/>
<rect x="556" y="846" width="1" height="3"/>
<rect x="559" y="844" width="1" height="5"/>
<rect x="563" y="832" width="1" height="17"/>
<rect x="567" y="843" width="1" height="6"/>
<rect x="571" y="843" width="1" height="6"/>
<rect x="575" y="842" width="1" height="7"/>
<rect x="579" y="847" width="1" height="2"/>
<rect x="583" y="847" width="1" height="2"/>
<rect x="587" y="842" width="1" height="7"/>
<rect x="591" y="835" width="1" height="14"/>
<rect x="594" y="831" width="1" height="18"/>
<rect x="598" y="844" width="1" height="5"/>
<rect x="602" y="838" width="1" height="11"/>
<rect x="606" y="831" width="1" height="18"/>
<rect x="610" y="826" width="1" height="23"/>
<rect x="614" y="837" width="1" height="12"/>
<rect x="618" y="842" width="1" height="7"/>
<rect x="622" y="825" width="1" height="24"/>
<rect x="626" y="831" width="1" height="18"/>
<rect x="629" y="845" width="1" height="4"/>
<rect x="633" y="839" width="1" height="10"/>
<rect x="637" y="826" width="1" height="23"/>
<rect x="641" y="839" width="1" height="10"/>
<rect x="645" y="833" width="1" height="16"/>
<rect x="649" y="836" width="1" height="13"/>
<rect x="653" y="836" width="1" height="13"/>
<rect x="657" y="844" width="1" height="5"/>
<rect x="661" y="829" width="1" height="20"/>
<rect x="664" y="825" width="1" height="24"/>
<rect x="668" y="836" width="1" height="13"/>
<rect x="672" y="825" width="1" height="24"/>
<rect x="676" y="832" width="1" height="17"/>
<rect x="680" y="841" width="1" height="8"/>
<rect x="684" y="842" width="1" height="7"/>
<rect x="688" y="843" width="1" height="6"/>
<rect x="692" y="846" width="1" height="3"/>
<rect x="696" y="844" width="1" height="5"/>
<rect x="699" y="829" width="1" height="20"/>
<rect x="703" y="832" width="1" height="17"/>
<rect x="707" y="841" width="1" height="8"/>
<rect x="711" y="842" width="1" height="7"/>
<rect x="715" y="842" width="1" height="7"/>
<rect x="719" y="833" width="1" height="16"/>
<rect x="723" y="841" width="1" height="8"/>
<rect x="727" y="845" width="1" height="4"/>
<rect x="731" y="840" width="1" height="9"/>
<rect x="734" y="839" width="1" height="10"/>
<rect x="738" y="846" width="1" height="3"/>
<rect x="742" y="846" width="1" height="3"/>
<rect x="746" y="839" width="1" height="10"/>
<rect x="750" y="841" width="1" height="8"/>
<rect x="754" y="843" width="1" height="6"/>
<rect x="758" y="842" width="1" height="7"/>
<rect x="762" y="834" width="1" height="15"/>
<rect x="765" y="836" width="1" height="13"/>
<rect x="769" y="834" width="1" height="15"/>
<rect x="773" y="808" width="1" height="41"/>
<rect x="777" y="818" width="1" height="31"/>
<rect x="781" y="832" width="1" height="17"/>
<rect x="785" y="839" width="1" height="10"/>
<rect x="789" y="839" width="1" height="10"/>
<rect x="793" y="755" width="1" height="94"/>
<rect x="797" y="829" width="1" height="20"/>
<rect x="800" y="827" width="1" height="22"/>
<rect x="804" y="823" width="1" height="26"/>
<rect x="808" y="827" width="1" height="22"/>
<rect x="812" y="771" width="1" height="78"/>
<rect x="816" y="821" width="1" height="28"/>
<rect x="820" y="808" width="1" height="41"/>
<rect x="824" y="804" width="1" height="45"/>
<rect x="828" y="808" width="1" height="41"/>
<rect x="832" y="799" width="1" height="50"/>
<rect x="835" y="781" width="1" height="68"/>
<rect x="839" y="805" width="1" height="44"/>
<rect x="843" y="816" width="1" height="33"/>
<rect x="847" y="804" width="1" height="45"/>
<rect x="851" y="824" width="1" height="25"/>
<rect x="855" y="792" width="1" height="57"/>
<rect x="859" y="812" width="1" height="37"/>
<rect x="863" y="664" width="1" height="185"/>
<rect x="867" y="762" width="1" height="87"/>
<rect x="870" y="778" width="1" height="71"/>
<rect x="874" y="748" width="1" height="101"/>
<rect x="878" y="794" width="1" height="55"/>
<rect x="882" y="786" width="1" height="63"/>
<rect x="886" y="749" width="1" height="100"/>
<rect x="890" y="777" width="1" height="72"/>
<rect x="894" y="782" width="1" height="67"/>
<rect x="898" y="795" width="1" height="54"/>
<rect x="902" y="775" width="1" height="74"/>
<rect x="905" y="771" width="1" height="78"/>
<rect x="909" y="782" width="1" height="67"/>
<rect x="913" y="770" width="1" height="79"/>
<rect x="917" y="769" width="1" height="80"/>
<rect x="921" y="799" width="1" height="50"/>
<rect x="925" y="821" width="1" height="28"/>
<rect x="929" y="826" width="1" height="23"/>
<rect x="933" y="799" width="1" height="50"/>
<rect x="937" y="824" width="1" height="25"/>
<rect x="940" y="820" width="1" height="29"/>
<rect x="944" y="807" width="1" height="42"/>
<rect x="948" y="814" width="1" height="35"/>
<rect x="952" y="820" width="1" height="29"/>
<rect x="956" y="834" width="1" height="15"/>
<rect x="960" y="818" width="1" height="31"/>
<rect x="964" y="816" width="1" height="33"/>
<rect x="968" y="821" width="1" height="28"/>
<rect x="972" y="837" width="1" height="12"/>
<rect x="975" y="837" width="1" height="12"/>
<rect x="979" y="836" width="1" height="13"/>
<rect x="983" y="816" width="1" height="33"/>
<rect x="987" y="820" width="1" height="29"/>
<rect x="991" y="815" width="1" height="34"/>
<rect x="995" y="812" width="1" height="37"/>
<rect x="999" y="823" width="1" height="26"/>
<rect x="1003" y="826" width="1" height="23"/>
<rect x="1006" y="826" width="1" height="23"/>
<rect x="1010" y="835" width="1" height="14"/>
<rect x="1014" y="779" width="1" height="70"/>
<rect x="1018" y="706" width="1" height="143"/>
<rect x="1022" y="758" width="1" height="91"/>
<rect x="1026" y="788" width="1" height="61"/>
<rect x="1030" y="776" width="1" height="73"/>
<rect x="1034" y="718" width="1" height="131"/>
<rect x="1038" y="742" width="1" height="107"/>
<rect x="1041" y="773" width="1" height="76"/>
<rect x="1045" y="701" width="1" height="148"/>
<rect x="1049" y="767" width="1" height="82"/>
<rect x="1053" y="797" width="1" height="52"/>
<rect x="1057" y="744" width="1" height="105"/>
<rect x="1061" y="769" width="1" height="80"/>
<rect x="1065" y="795" width="1" height="54"/>
<rect x="1069" y="731" width="1" height="118"/>
<rect x="1073" y="794" width="1" height="55"/>
<rect x="1076" y="766" width="1" height="83"/>
<rect x="1080" y="698" width="1" height="151"/>
<rect x="1084" y="790" width="1" height="59"/>
<rect x="1088" y="780" width="1" height="69"/>
<rect x="1092" y="762" width="1" height="87"/>
<rect x="1096" y="794" width="1" height="55"/>
<rect x="1100" y="808" width="1" height="41"/>
<rect x="1104" y="791" width="1" height="58"/>
<rect x="1108" y="753" width="1" height="96"/>
<rect x="1111" y="797" width="1" height="52"/>
<rect x="1115" y="782" width="1" height="67"/>
<rect x="1119" y="782" width="1" height="67"/>
<rect x="1123" y="708" width="1" height="141"/>
<rect x="1127" y="786" width="1" height="63"/>
<rect x="1131" y="700" width="1" height="149"/>
<rect x="1135" y="695" width="1" height="154"/>
<rect x="1139" y="820" width="1" height="29"/>
<rect x="1143" y="805" width="1" height="44"/>
<rect x="1146" y="798" width="1" height="51"/>
<rect x="1150" y="803" width="1" height="46"/>
<rect x="1154" y="819" width="1" height="30"/>
<rect x="1158" y="794" width="1" height="55"/>
<rect x="1162" y="716" width="1" height="133"/>
<rect x="1166" y="813" width="1" height="36"/>
<rect x="1170" y="777" width="1" height="72"/>
<rect x="1174" y="775" width="1" height="74"/>
<rect x="1178" y="809" width="1" height="40"/>
<rect x="1181" y="804" width="1" height="45"/>
<rect x="1185" y="813" width="1" height="36"/>
<rect x="1189" y="793" width="1" height="56"/>
<rect x="1193" y="768" width="1" height="81"/>
<rect x="1197" y="815" width="1" height="34"/>
<rect x="1201" y="822" width="1" height="27"/>
<rect x="1205" y="818" width="1" height="31"/>
<rect x="1209" y="807" width="1" height="42"/>
<rect x="1212" y="774" width="1" height="75"/>
<rect x="1216" y="797" width="1" height="52"/>
<rect x="1220" y="818" width="1" height="31"/>
<rect x="1224" y="795" width="1" height="54"/>
<rect x="1228" y="717" width="1" height="132"/>
<rect x="1232" y="791" width="1" height="58"/>
<rect x="1236" y="779" width="1" height="70"/>
<rect x="1240" y="778" width="1" height="71"/>
<rect x="1244" y="823" width="1" height="26"/>
<rect x="1247" y="799" width="1" height="50"/>
<rect x="1251" y="813" width="1" height="36"/>
<rect x="1255" y="819" width="1" height="30"/>
<rect x="1259" y="821" width="1" height="28"/>
<rect x="1263" y="783" width="1" height="66"/>
<rect x="1267" y="769" width="1" height="80"/>
<rect x="1271" y="799" width="1" height="50"/>
<rect x="1275" y="805" width="1" height="44"/>
<rect x="1279" y="830" width="1" height="19"/>
<rect x="1282" y="823" width="1" height="26"/>
<rect x="1286" y="810" width="1" height="39"/>
<rect x="1290" y="815" width="1" height="34"/>
<rect x="1294" y="802" width="1" height="47"/>
<rect x="1298" y="804" width="1" height="45"/>
<rect x="1302" y="828" width="1" height="21"/>
<rect x="1306" y="835" width="1" height="14"/>
<rect x="1310" y="817" width="1" height="32"/>
<rect x="1314" y="776" width="1" height="73"/>
<rect x="1317" y="800" width="1" height="49"/>
<rect x="1321" y="818" width="1" height="31"/>
<rect x="1325" y="811" width="1" height="38"/>
<rect x="1329" y="783" width="1" height="66"/>
<rect x="1333" y="803" width="1" height="46"/>
<rect x="1337" y="828" width="1" height="21"/>
<rect x="1341" y="810" width="1" height="39"/>
<rect x="1345" y="803" width="1" height="46"/>
<rect x="1349" y="815" width="1" height="34"/>
<rect x="1352" y="755" width="1" height="94"/>
<rect x="1356" y="781" width="1" height="68"/>
<rect x="1360" y="790" width="1" height="59"/>
</g>
<path d="M3.8 836.1 C5.1 835.5 5.3 834.8 8.6 833.9 C11.9 833.1 12.1 833.5 16.1 832.8 C20.1 832.2 20.5 832.3 23.7 831.5 C26.8 830.6 25.1 830.2 28.0 829.6 C30.8 829.1 31.8 829.1 34.4 829.4 C37.0 829.7 35.3 829.5 37.6 830.7 C39.9 831.9 39.0 833.1 43.0 833.9 C47.0 834.8 48.4 833.7 52.7 833.9 C57.0 834.2 55.4 834.6 59.1 834.8 C62.9 835.0 62.7 834.9 66.7 834.7 C70.7 834.4 71.3 835.1 74.2 833.9 C77.1 832.7 74.6 832.2 77.4 830.2 C80.3 828.2 81.5 828.1 84.9 826.4 C88.4 824.7 87.7 824.7 90.3 823.7 C92.9 822.7 92.6 823.4 94.6 822.6 C96.6 821.9 95.8 821.5 97.8 821.0 C99.9 820.5 99.9 820.6 102.2 820.8 C104.4 821.0 104.4 822.3 106.5 821.9 C108.5 821.5 108.1 820.0 109.7 819.2 C111.3 818.4 110.4 818.1 112.4 818.9 C114.4 819.6 113.9 820.2 117.2 822.1 C120.5 824.0 121.6 825.1 124.7 825.9 C127.9 826.7 126.9 825.1 129.0 825.1 C131.2 825.1 130.5 825.2 132.8 825.9 C135.1 826.5 134.6 827.1 137.6 827.7 C140.6 828.3 141.5 827.6 144.1 828.0 C146.7 828.4 145.3 828.9 147.3 829.1 C149.3 829.2 149.3 828.5 151.6 828.5 C153.9 828.6 153.6 829.2 155.9 829.3 C158.2 829.4 158.2 829.6 160.2 829.1 C162.2 828.6 161.4 827.0 163.4 827.5 C165.4 827.9 164.3 829.3 167.7 830.7 C171.2 832.1 172.3 832.6 176.3 832.8 C180.4 833.1 179.4 831.6 182.8 831.8 C186.2 831.9 186.0 832.6 189.2 833.4 C192.5 834.2 191.7 834.0 194.9 834.8 C198.2 835.6 198.0 835.6 201.5 836.4 C204.9 837.2 204.3 837.6 207.9 837.7 C211.5 837.7 211.2 836.2 214.9 836.6 C218.6 837.0 218.6 838.4 221.9 839.3 C225.2 840.2 224.1 839.5 227.3 840.2 C230.4 840.8 229.7 840.9 233.7 841.7 C237.7 842.4 237.7 842.3 242.3 842.8 C246.9 843.4 246.3 843.6 250.9 843.8 C255.5 844.1 254.4 843.8 259.5 843.8 C264.7 843.8 264.8 843.9 270.3 843.8 C275.7 843.7 275.4 843.6 279.9 843.4 C284.5 843.2 284.3 843.4 287.5 843.1 C290.6 842.7 289.6 842.6 291.8 842.0 C293.9 841.4 292.7 841.0 295.5 840.7 C298.4 840.4 297.8 840.9 302.5 840.9 C307.3 841.0 306.7 841.0 313.3 840.9 C319.9 840.9 322.7 840.3 327.3 840.7 C331.8 841.1 328.5 841.9 330.5 842.5 C332.5 843.2 329.3 842.9 334.8 843.1 C340.2 843.2 345.2 842.8 350.9 843.1 C356.6 843.3 353.1 843.6 356.3 843.9 C359.4 844.3 358.4 844.3 362.7 844.5 C367.0 844.6 367.5 844.6 372.4 844.5 C377.3 844.3 377.6 844.6 381.0 843.9 C384.5 843.3 383.3 842.8 385.3 842.0 C387.3 841.2 387.3 841.2 388.5 840.9 C389.8 840.6 384.7 841.0 389.9 840.9 C395.2 840.9 402.2 841.0 408.3 840.7 C414.3 840.4 410.0 840.1 412.6 839.8 C415.2 839.6 415.7 839.6 418.0 839.8 C420.3 840.1 419.2 840.0 421.2 840.9 C423.2 841.9 422.3 842.7 425.5 843.4 C428.6 844.1 429.0 843.3 433.0 843.6 C437.0 843.9 436.5 844.2 440.5 844.5 C444.6 844.7 444.3 844.3 448.1 844.7 C451.8 845.0 451.6 845.5 454.5 845.8 C457.4 846.0 455.9 846.1 458.8 845.8 C461.7 845.4 461.8 844.5 465.3 844.5 C468.7 844.4 468.3 845.8 471.7 845.4 C475.2 845.1 474.2 844.0 478.2 843.1 C482.2 842.1 482.8 842.5 486.8 841.8 C490.8 841.1 490.4 840.9 493.2 840.4 C496.1 839.9 495.2 840.7 497.5 839.8 C499.8 839.0 499.0 838.4 501.8 837.2 C504.7 835.9 505.1 835.9 508.3 835.0 C511.4 834.1 509.6 834.2 513.7 833.9 C517.7 833.6 519.0 833.6 523.3 833.9 C527.6 834.2 526.3 834.5 529.8 835.0 C533.2 835.5 533.4 835.0 536.2 835.9 C539.1 836.7 536.5 836.7 540.5 838.2 C544.6 839.7 546.1 840.0 551.3 841.5 C556.5 842.9 555.6 843.0 559.9 843.6 C564.2 844.2 563.4 843.8 567.4 843.6 C571.4 843.4 570.6 842.7 574.9 842.7 C579.2 842.7 580.9 843.5 583.5 843.6 C586.2 843.7 583.4 843.6 584.9 843.3 C586.5 843.0 586.7 843.2 589.3 842.5 C591.9 841.9 591.2 841.4 594.7 840.9 C598.1 840.4 599.1 841.0 602.2 840.7 C605.4 840.4 604.2 840.6 606.5 839.8 C608.8 839.1 608.2 838.5 610.8 837.9 C613.4 837.3 613.9 837.9 616.2 837.5 C618.5 837.1 617.7 837.1 619.4 836.4 C621.1 835.7 620.8 835.3 622.6 834.7 C624.5 834.0 624.4 833.9 626.4 833.9 C628.4 834.0 628.2 834.4 630.2 834.8 C632.2 835.2 631.9 835.6 633.9 835.3 C635.9 835.1 634.7 834.3 637.7 833.9 C640.7 833.6 641.8 833.8 645.2 833.9 C648.7 834.1 647.2 834.3 650.6 834.5 C654.0 834.7 654.4 834.5 658.1 834.7 C661.8 834.8 661.1 835.4 664.6 835.0 C668.0 834.6 667.9 833.9 671.0 833.2 C674.2 832.5 673.5 832.3 676.4 832.3 C679.3 832.4 679.2 833.0 681.8 833.4 C684.4 833.8 683.2 833.4 686.1 833.9 C688.9 834.5 689.1 835.0 692.5 835.5 C696.0 836.1 696.1 835.6 699.0 835.9 C701.8 836.1 701.0 836.3 703.3 836.6 C705.6 836.9 704.4 836.2 707.6 836.9 C710.7 837.7 711.7 838.9 715.1 839.3 C718.5 839.7 717.0 838.5 720.5 838.5 C723.9 838.6 724.4 839.6 728.0 839.6 C731.6 839.6 731.3 838.6 733.9 838.5 C736.5 838.5 735.4 838.5 737.7 839.3 C740.0 840.1 739.9 841.2 742.5 841.5 C745.1 841.7 744.4 840.6 747.4 840.4 C750.4 840.1 750.1 840.2 753.8 840.6 C757.5 840.9 757.9 841.7 761.3 841.7 C764.8 841.7 764.4 841.1 766.7 840.6 C769.0 840.1 767.9 840.8 769.9 839.8 C772.0 838.9 772.0 838.8 774.2 837.2 C776.5 835.5 777.0 834.7 778.5 833.6 C780.1 832.5 777.1 833.2 779.9 833.1 C782.7 832.9 785.4 835.5 789.0 833.1 C792.7 830.7 791.1 826.9 793.6 824.0 C796.0 821.1 795.7 823.0 798.1 822.2 C800.5 821.4 799.9 821.8 802.6 821.1 C805.3 820.4 805.5 820.8 808.2 819.5 C811.0 818.2 809.8 817.3 812.8 816.1 C815.8 814.9 816.2 816.7 819.5 815.0 C822.9 813.3 822.8 811.8 825.2 809.8 C827.6 807.8 826.5 807.4 828.6 807.5 C830.7 807.7 830.7 811.1 833.1 810.5 C835.5 809.9 835.2 807.2 837.6 805.3 C840.0 803.4 839.4 804.6 842.1 803.5 C844.9 802.4 845.2 800.3 847.8 801.2 C850.4 802.1 849.8 806.1 851.9 806.9 C854.0 807.6 853.7 805.1 855.7 804.2 C857.8 803.2 857.4 807.1 859.5 803.5 C861.7 799.9 860.7 795.8 863.6 790.6 C866.5 785.4 867.4 786.6 870.4 783.8 C873.4 781.0 872.2 781.5 874.9 780.0 C877.6 778.5 877.6 780.5 880.6 778.2 C883.6 775.9 883.5 774.6 886.2 771.4 C888.9 768.2 887.4 768.1 890.7 766.2 C894.0 764.3 895.3 761.7 898.6 764.2 C902.0 766.6 900.2 772.2 903.2 775.5 C906.2 778.7 906.9 775.6 909.9 776.4 C913.0 777.1 911.5 778.0 914.5 778.2 C917.5 778.3 917.3 774.3 921.2 777.0 C925.2 779.7 925.2 784.2 929.2 788.3 C933.1 792.4 932.0 789.1 935.9 792.4 C939.8 795.7 939.9 796.9 943.8 800.8 C947.8 804.6 946.7 802.6 950.6 806.9 C954.5 811.1 953.7 813.9 958.5 816.6 C963.4 819.3 964.4 815.7 968.7 817.0 C973.0 818.4 971.3 819.4 974.8 821.6 C978.3 823.7 978.1 823.7 981.8 824.9 C985.4 826.1 984.6 826.7 988.6 826.1 C992.5 825.5 992.3 823.2 996.5 822.7 C1000.7 822.1 1000.5 823.4 1004.4 824.0 C1008.3 824.6 1008.4 825.7 1011.2 824.9 C1013.9 824.2 1012.4 826.3 1014.5 821.1 C1016.7 815.9 1016.7 811.0 1019.1 805.3 C1021.5 799.6 1020.6 802.9 1023.6 799.6 C1026.6 796.3 1027.1 797.4 1030.4 792.9 C1033.7 788.3 1033.0 788.4 1036.0 782.7 C1039.0 777.0 1039.0 778.0 1041.7 771.4 C1044.4 764.8 1044.0 763.2 1046.2 757.8 C1048.4 752.4 1047.9 752.3 1050.0 751.0 C1052.1 749.8 1051.5 751.7 1054.1 753.3 C1056.7 754.9 1056.7 755.8 1059.7 757.1 C1062.8 758.5 1062.7 759.2 1065.4 758.3 C1068.1 757.4 1067.7 753.5 1069.9 753.8 C1072.1 754.1 1071.8 756.8 1073.8 759.4 C1075.7 762.0 1075.3 764.2 1077.1 763.5 C1079.0 762.8 1078.6 756.3 1080.8 756.7 C1082.9 757.1 1083.1 762.6 1085.3 765.1 C1087.5 767.5 1087.2 766.3 1089.1 765.7 C1091.1 765.2 1090.4 762.4 1092.5 763.0 C1094.6 763.6 1094.6 765.6 1097.0 768.0 C1099.4 770.4 1099.4 771.2 1101.6 772.1 C1103.7 773.0 1102.8 771.0 1104.9 771.4 C1107.1 771.8 1106.8 772.7 1109.5 773.6 C1112.2 774.5 1112.3 772.1 1115.1 774.8 C1117.9 777.5 1117.7 783.4 1120.1 783.8 C1122.5 784.2 1121.9 778.3 1124.2 776.4 C1126.4 774.4 1126.6 775.7 1128.7 776.4 C1130.8 777.0 1130.1 780.8 1132.1 778.8 C1134.0 776.9 1133.2 771.4 1135.9 769.1 C1138.6 766.8 1139.0 768.4 1142.2 770.3 C1145.4 772.1 1145.5 774.3 1147.9 775.9 C1150.3 777.5 1149.2 775.3 1151.3 776.4 C1153.4 777.4 1152.8 778.3 1155.8 780.0 C1158.8 781.7 1159.6 781.4 1162.6 782.7 C1165.6 784.0 1165.1 784.9 1167.1 784.9 C1169.1 784.9 1168.0 780.9 1170.0 782.7 C1172.0 784.5 1171.5 789.6 1174.5 791.7 C1177.5 793.8 1177.7 790.7 1181.3 790.6 C1184.9 790.5 1184.8 792.6 1188.1 791.3 C1191.4 789.9 1191.2 786.5 1193.7 785.6 C1196.3 784.7 1195.2 784.4 1197.6 787.9 C1200.0 791.3 1200.5 795.5 1202.8 798.5 C1205.1 801.5 1204.0 798.1 1206.2 799.0 C1208.3 799.9 1207.7 801.3 1210.7 801.9 C1213.7 802.5 1213.8 801.2 1217.5 801.2 C1221.1 801.2 1221.1 804.0 1224.2 801.9 C1227.4 799.8 1226.8 795.2 1229.2 793.3 C1231.6 791.4 1230.1 796.3 1233.3 794.7 C1236.5 793.0 1237.3 789.5 1241.2 787.2 C1245.1 784.9 1245.0 785.4 1248.0 786.1 C1251.0 786.8 1249.8 788.2 1252.5 789.9 C1255.2 791.6 1255.3 791.9 1258.1 792.4 C1261.0 792.9 1260.6 790.5 1263.1 791.7 C1265.6 792.9 1265.2 795.2 1267.6 796.9 C1270.0 798.6 1268.7 795.8 1272.1 798.1 C1275.6 800.3 1276.6 802.9 1280.7 805.3 C1284.8 807.6 1284.2 806.6 1287.5 806.9 C1290.8 807.2 1290.2 807.1 1293.2 806.4 C1296.2 805.7 1295.2 802.0 1298.8 804.2 C1302.4 806.3 1303.6 811.0 1306.7 814.3 C1309.9 817.6 1307.6 817.5 1310.6 816.6 C1313.6 815.7 1313.9 812.4 1318.0 810.9 C1322.1 809.4 1322.9 811.8 1325.9 810.9 C1328.9 810.0 1327.2 808.6 1329.3 807.5 C1331.4 806.5 1331.4 806.5 1333.8 807.1 C1336.3 807.7 1335.3 810.3 1338.4 809.8 C1341.4 809.3 1341.5 807.1 1345.1 805.3 C1348.8 803.5 1347.7 805.0 1351.9 803.0 C1356.1 801.1 1358.5 799.4 1361.0 798.1" fill="none" stroke="#363636" stroke-width="1.6" stroke-linejoin="round"/>
<rect x="1130.4" y="699.4" width="4.6" height="88.2" fill="#228b22" fill-opacity="0.58" stroke="#228b22" stroke-width="1"/>
<rect x="1158.6" y="715.6" width="8.0" height="69.8" fill="#228b22" fill-opacity="0.58" stroke="#228b22" stroke-width="1"/>
<rect x="1226.4" y="720.4" width="6.4" height="98.0" fill="#228b22" fill-opacity="0.58" stroke="#228b22" stroke-width="1"/>
</svg></body></html>
